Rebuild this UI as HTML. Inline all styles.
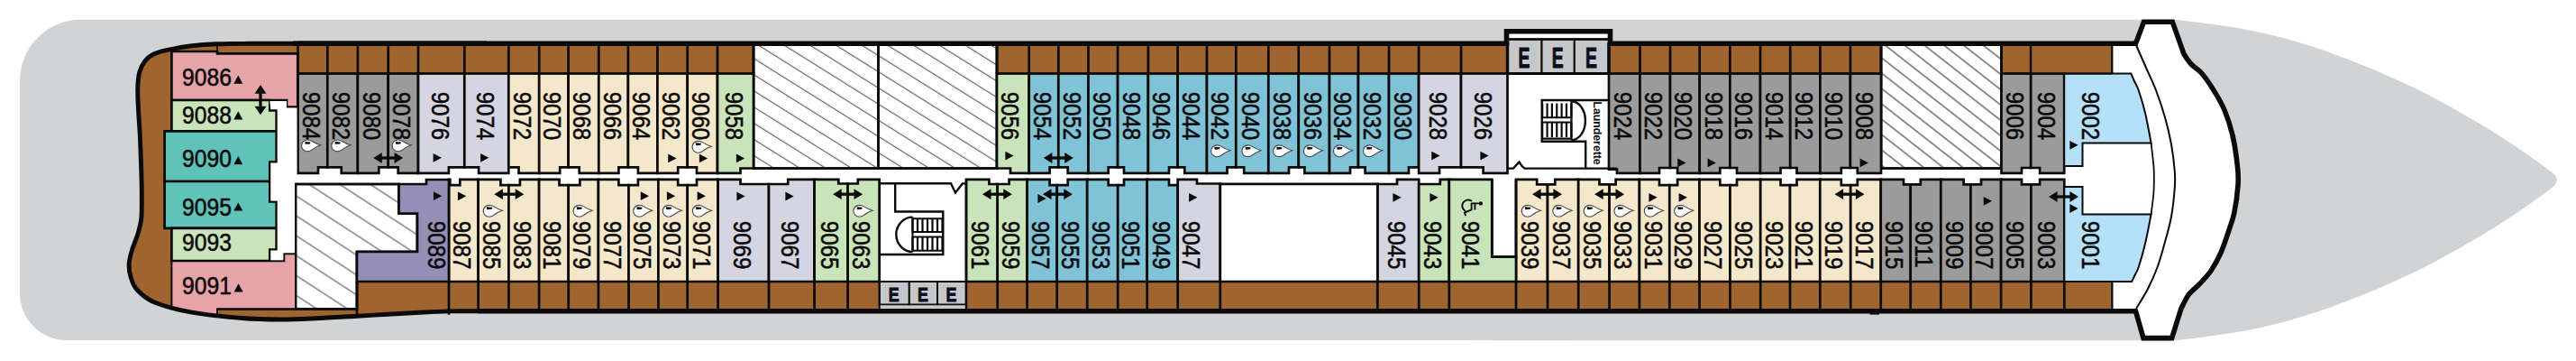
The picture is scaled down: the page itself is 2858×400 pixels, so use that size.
<!DOCTYPE html>
<html lang="en"><head><meta charset="utf-8"><title>Deck 9 plan</title>
<style>html,body{margin:0;padding:0;background:#fff}body{width:2858px;height:400px;overflow:hidden}svg{display:block}</style>
</head><body>
<svg width="2858" height="400" viewBox="0 0 2858 400">
<defs>
<pattern id="hatch" width="40" height="15.2" patternUnits="userSpaceOnUse" patternTransform="rotate(32)"><line x1="0" y1="7" x2="40" y2="7" stroke="#626365" stroke-width="1.3"/></pattern>
<pattern id="hatch3" width="40" height="13.4" patternUnits="userSpaceOnUse" patternTransform="rotate(38)"><line x1="0" y1="11.5" x2="40" y2="11.5" stroke="#626365" stroke-width="1.3"/></pattern>
<pattern id="hatch4" width="40" height="18.5" patternUnits="userSpaceOnUse" patternTransform="rotate(33)"><line x1="0" y1="3" x2="40" y2="3" stroke="#626365" stroke-width="1.3"/></pattern>
<clipPath id="hullclip"><path d="M330,48.3 L1671.5,48.3 L1671.5,34.8 L1786.5,34.8 L1786.5,48.3 L2369.5,48.3 L2378.5,24.2 L2410.3,24.2 L2423,60 C2424.33,61.83 2427.67,67.42 2431,71 C2434.33,74.58 2438.83,76.67 2443,81.5 C2447.17,86.33 2451.83,93.25 2456,100 C2460.17,106.75 2464.5,113.67 2468,122 C2471.5,130.33 2474.58,139.5 2477,150 C2479.42,160.5 2481.5,175.83 2482.5,185 C2483.5,194.17 2483.58,196.67 2483,205 C2482.42,213.33 2480.67,226.67 2479,235 C2477.33,243.33 2475.5,247.5 2473,255 C2470.5,262.5 2467.33,272.5 2464,280 C2460.67,287.5 2457,294.17 2453,300 C2449,305.83 2444.12,310.6 2440,315 C2435.88,319.4 2431.63,321.95 2428.3,326.4 C2424.97,330.85 2421.38,339.15 2420,341.7 L2409.6,374.6 L2378,374.6 L2369.5,344.7 L530,344.7 C524.67,344.73 508,344.68 498,344.9 C488,345.12 481.33,345.43 470,346 C458.67,346.57 442.33,347.6 430,348.3 C417.67,349 409.33,349.45 396,350.2 C382.67,350.95 364.33,352.17 350,352.8 C335.67,353.43 323.58,354.05 310,354 C296.42,353.95 284.67,353.8 268.5,352.5 C252.33,351.2 229.17,349.12 213,346.2 C196.83,343.28 181.67,339.2 171.5,335 C161.33,330.8 156.45,325.83 152,321 C147.55,316.17 146.27,310.83 144.8,306 C143.33,301.17 142.92,296.83 143.2,292 C143.48,287.17 144.87,282.5 146.5,277 C148.13,271.5 151.28,264.83 153,259 C154.72,253.17 156.08,249.33 156.8,242 C157.52,234.67 157.3,223.67 157.3,215 C157.3,206.33 157.13,200.83 156.8,190 C156.47,179.17 155.83,161.17 155.3,150 C154.77,138.83 154.02,131.67 153.6,123 C153.18,114.33 152.6,105.17 152.8,98 C153,90.83 153.43,85.08 154.8,80 C156.17,74.92 158.22,70.92 161,67.5 C163.78,64.08 166.67,61.65 171.5,59.5 C176.33,57.35 183.08,56.05 190,54.6 C196.92,53.15 204.67,51.77 213,50.8 C221.33,49.83 229.67,49.22 240,48.8 C250.33,48.38 260,48.38 275,48.3 C290,48.22 320.83,48.3 330,48.3 Z"/></clipPath>
</defs>
<path d="M90,21.8 L2413,21.8 C2418.17,22.43 2431.33,23.87 2444,25.6 C2456.67,27.33 2474.17,29.45 2489,32.2 C2503.83,34.95 2518.33,38.23 2533,42.1 C2547.67,45.97 2562.17,50.33 2577,55.4 C2591.83,60.47 2610.83,68.12 2622,72.5 C2633.17,76.88 2632.83,76.7 2644,81.7 C2655.17,86.7 2674.17,95.03 2689,102.5 C2703.83,109.97 2718.33,118.08 2733,126.5 C2747.67,134.92 2764.17,144.83 2777,153 C2789.83,161.17 2801.83,169.83 2810,175.5 C2818.17,181.17 2821.92,183.92 2826,187 C2830.08,190.08 2832.67,191.92 2834.5,194 C2836.33,196.08 2836.58,198.58 2837,199.5 C2836.58,200.42 2836.33,202.92 2834.5,205 C2832.67,207.08 2830.08,208.92 2826,212 C2821.92,215.08 2818.17,217.83 2810,223.5 C2801.83,229.17 2789.83,237.83 2777,246 C2764.17,254.17 2747.67,264.08 2733,272.5 C2718.33,280.92 2703.83,289.03 2689,296.5 C2674.17,303.97 2655.17,312.3 2644,317.3 C2632.83,322.3 2633.17,322.12 2622,326.5 C2610.83,330.88 2591.83,338.53 2577,343.6 C2562.17,348.67 2547.67,353.03 2533,356.9 C2518.33,360.77 2503.83,364.05 2489,366.8 C2474.17,369.55 2456.67,371.67 2444,373.4 C2431.33,375.13 2418.17,376.57 2413,377.2 L74,377 A52,52 0 0 1 22,325 L22,89.8 A68,68 0 0 1 90,21.8 Z" fill="#d1d3d4"/>
<path d="M330,48.3 L1671.5,48.3 L1671.5,34.8 L1786.5,34.8 L1786.5,48.3 L2369.5,48.3 L2378.5,24.2 L2410.3,24.2 L2423,60 C2424.33,61.83 2427.67,67.42 2431,71 C2434.33,74.58 2438.83,76.67 2443,81.5 C2447.17,86.33 2451.83,93.25 2456,100 C2460.17,106.75 2464.5,113.67 2468,122 C2471.5,130.33 2474.58,139.5 2477,150 C2479.42,160.5 2481.5,175.83 2482.5,185 C2483.5,194.17 2483.58,196.67 2483,205 C2482.42,213.33 2480.67,226.67 2479,235 C2477.33,243.33 2475.5,247.5 2473,255 C2470.5,262.5 2467.33,272.5 2464,280 C2460.67,287.5 2457,294.17 2453,300 C2449,305.83 2444.12,310.6 2440,315 C2435.88,319.4 2431.63,321.95 2428.3,326.4 C2424.97,330.85 2421.38,339.15 2420,341.7 L2409.6,374.6 L2378,374.6 L2369.5,344.7 L530,344.7 C524.67,344.73 508,344.68 498,344.9 C488,345.12 481.33,345.43 470,346 C458.67,346.57 442.33,347.6 430,348.3 C417.67,349 409.33,349.45 396,350.2 C382.67,350.95 364.33,352.17 350,352.8 C335.67,353.43 323.58,354.05 310,354 C296.42,353.95 284.67,353.8 268.5,352.5 C252.33,351.2 229.17,349.12 213,346.2 C196.83,343.28 181.67,339.2 171.5,335 C161.33,330.8 156.45,325.83 152,321 C147.55,316.17 146.27,310.83 144.8,306 C143.33,301.17 142.92,296.83 143.2,292 C143.48,287.17 144.87,282.5 146.5,277 C148.13,271.5 151.28,264.83 153,259 C154.72,253.17 156.08,249.33 156.8,242 C157.52,234.67 157.3,223.67 157.3,215 C157.3,206.33 157.13,200.83 156.8,190 C156.47,179.17 155.83,161.17 155.3,150 C154.77,138.83 154.02,131.67 153.6,123 C153.18,114.33 152.6,105.17 152.8,98 C153,90.83 153.43,85.08 154.8,80 C156.17,74.92 158.22,70.92 161,67.5 C163.78,64.08 166.67,61.65 171.5,59.5 C176.33,57.35 183.08,56.05 190,54.6 C196.92,53.15 204.67,51.77 213,50.8 C221.33,49.83 229.67,49.22 240,48.8 C250.33,48.38 260,48.38 275,48.3 C290,48.22 320.83,48.3 330,48.3 Z" fill="#ffffff"/>
<rect x="130" y="40" width="266" height="320" fill="#a0642f" clip-path="url(#hullclip)"/>
<rect x="395" y="312" width="150" height="48" fill="#a0642f" clip-path="url(#hullclip)"/>
<rect x="327" y="184" width="172" height="21" fill="#ffffff"/>
<rect x="330" y="48.3" width="506" height="33.2" fill="#a0642f"/>
<rect x="1106" y="48.3" width="566.5" height="33.2" fill="#a0642f"/>
<rect x="1785" y="48.3" width="302" height="33.2" fill="#a0642f"/>
<rect x="2220.5" y="48.3" width="122.8" height="33.2" fill="#a0642f"/>
<rect x="396" y="312" width="579.7" height="32.7" fill="#a0642f"/>
<rect x="1072" y="312" width="1271.4" height="32.7" fill="#a0642f"/>
<path d="M836,48.3 L974.5,48.3 L974.5,186.5 L836,186.5 Z" fill="#ffffff" stroke="#0a0a0a" stroke-width="2.5" stroke-linejoin="miter" />
<path d="M836,48.3 L974.5,48.3 L974.5,186.5 L836,186.5 Z" fill="url(#hatch)" stroke="#0a0a0a" stroke-width="2.5" stroke-linejoin="miter" />
<path d="M974.5,48.3 L1106,48.3 L1106,186.5 L974.5,186.5 Z" fill="#ffffff" stroke="#0a0a0a" stroke-width="2.5" stroke-linejoin="miter" />
<path d="M974.5,48.3 L1106,48.3 L1106,186.5 L974.5,186.5 Z" fill="url(#hatch)" stroke="#0a0a0a" stroke-width="2.5" stroke-linejoin="miter" />
<path d="M2087,48.3 L2220.5,48.3 L2220.5,186.5 L2087,186.5 Z" fill="#ffffff" stroke="#0a0a0a" stroke-width="2.5" stroke-linejoin="miter" />
<path d="M2087,48.3 L2220.5,48.3 L2220.5,186.5 L2087,186.5 Z" fill="url(#hatch3)" stroke="#0a0a0a" stroke-width="2.5" stroke-linejoin="miter" />
<path d="M328,204 L442.5,204 L442.5,236.5 L463,236.5 L463,279 L396,279 L396,342.3 L328,342.3 Z" fill="#ffffff" stroke="#0a0a0a" stroke-width="2.5" stroke-linejoin="miter" />
<path d="M328,204 L442.5,204 L442.5,236.5 L463,236.5 L463,279 L396,279 L396,342.3 L328,342.3 Z" fill="url(#hatch4)" stroke="#0a0a0a" stroke-width="2.5" stroke-linejoin="miter" />
<path d="M330.5,81.5 L363.3,81.5 L363.3,185.3 L353,185.3 L353,191.8 L330.5,191.8 Z" fill="#9b9b9b" stroke="#0a0a0a" stroke-width="2.7" stroke-linejoin="miter" />
<path d="M363.3,81.5 L396.9,81.5 L396.9,191.8 L378.7,191.8 L378.7,185.3 L363.3,185.3 Z" fill="#9b9b9b" stroke="#0a0a0a" stroke-width="2.7" stroke-linejoin="miter" />
<path d="M396.9,81.5 L430.7,81.5 L430.7,185.3 L420.3,185.3 L420.3,191.8 L396.9,191.8 Z" fill="#9b9b9b" stroke="#0a0a0a" stroke-width="2.7" stroke-linejoin="miter" />
<path d="M430.7,81.5 L464,81.5 L464,191.8 L441.7,191.8 L441.7,185.3 L430.7,185.3 Z" fill="#9b9b9b" stroke="#0a0a0a" stroke-width="2.7" stroke-linejoin="miter" />
<path d="M464,81.5 L515.3,81.5 L515.3,185.3 L497.9,185.3 L497.9,191.8 L464,191.8 Z" fill="#d4d5e1" stroke="#0a0a0a" stroke-width="2.7" stroke-linejoin="miter" />
<path d="M515.3,81.5 L564.3,81.5 L564.3,191.8 L531.1,191.8 L531.1,185.3 L515.3,185.3 Z" fill="#d4d5e1" stroke="#0a0a0a" stroke-width="2.7" stroke-linejoin="miter" />
<path d="M564.3,81.5 L598.2,81.5 L598.2,191.8 L575.5,191.8 L575.5,185.3 L564.3,185.3 Z" fill="#f5e7c9" stroke="#0a0a0a" stroke-width="2.7" stroke-linejoin="miter" />
<path d="M598.2,81.5 L630.6,81.5 L630.6,185.3 L621.2,185.3 L621.2,191.8 L598.2,191.8 Z" fill="#f5e7c9" stroke="#0a0a0a" stroke-width="2.7" stroke-linejoin="miter" />
<path d="M630.6,81.5 L664.3,81.5 L664.3,191.8 L642.7,191.8 L642.7,185.3 L630.6,185.3 Z" fill="#f5e7c9" stroke="#0a0a0a" stroke-width="2.7" stroke-linejoin="miter" />
<path d="M664.3,81.5 L696.9,81.5 L696.9,185.3 L686.4,185.3 L686.4,191.8 L664.3,191.8 Z" fill="#f5e7c9" stroke="#0a0a0a" stroke-width="2.7" stroke-linejoin="miter" />
<path d="M696.9,81.5 L729.4,81.5 L729.4,191.8 L707.9,191.8 L707.9,185.3 L696.9,185.3 Z" fill="#f5e7c9" stroke="#0a0a0a" stroke-width="2.7" stroke-linejoin="miter" />
<path d="M729.4,81.5 L762.7,81.5 L762.7,185.3 L752.2,185.3 L752.2,191.8 L729.4,191.8 Z" fill="#f5e7c9" stroke="#0a0a0a" stroke-width="2.7" stroke-linejoin="miter" />
<path d="M762.7,81.5 L796,81.5 L796,191.8 L773,191.8 L773,185.3 L762.7,185.3 Z" fill="#f5e7c9" stroke="#0a0a0a" stroke-width="2.7" stroke-linejoin="miter" />
<path d="M796,81.5 L836,81.5 L836,186.5 L821.5,186.5 L821.5,191.8 L796,191.8 Z" fill="#cae4ba" stroke="#0a0a0a" stroke-width="2.7" stroke-linejoin="miter" />
<path d="M1106,81.5 L1141.7,81.5 L1141.7,191.8 L1121,191.8 L1121,186.5 L1106,186.5 Z" fill="#cae4ba" stroke="#0a0a0a" stroke-width="2.7" stroke-linejoin="miter" />
<path d="M1141.7,81.5 L1174.3,81.5 L1174.3,185.3 L1164.6,185.3 L1164.6,191.8 L1141.7,191.8 Z" fill="#80c2d6" stroke="#0a0a0a" stroke-width="2.7" stroke-linejoin="miter" />
<path d="M1174.3,81.5 L1207.5,81.5 L1207.5,191.8 L1184.7,191.8 L1184.7,185.3 L1174.3,185.3 Z" fill="#80c2d6" stroke="#0a0a0a" stroke-width="2.7" stroke-linejoin="miter" />
<path d="M1207.5,81.5 L1240.1,81.5 L1240.1,185.3 L1229.7,185.3 L1229.7,191.8 L1207.5,191.8 Z" fill="#80c2d6" stroke="#0a0a0a" stroke-width="2.7" stroke-linejoin="miter" />
<path d="M1240.1,81.5 L1273.9,81.5 L1273.9,191.8 L1247,191.8 L1247,185.3 L1240.1,185.3 Z" fill="#80c2d6" stroke="#0a0a0a" stroke-width="2.7" stroke-linejoin="miter" />
<path d="M1273.9,81.5 L1306.6,81.5 L1306.6,185.3 L1297,185.3 L1297,191.8 L1273.9,191.8 Z" fill="#80c2d6" stroke="#0a0a0a" stroke-width="2.7" stroke-linejoin="miter" />
<path d="M1306.6,81.5 L1339,81.5 L1339,191.8 L1314.3,191.8 L1314.3,185.3 L1306.6,185.3 Z" fill="#80c2d6" stroke="#0a0a0a" stroke-width="2.7" stroke-linejoin="miter" />
<path d="M1339,81.5 L1371.3,81.5 L1371.3,185.3 L1361.5,185.3 L1361.5,191.8 L1339,191.8 Z" fill="#80c2d6" stroke="#0a0a0a" stroke-width="2.7" stroke-linejoin="miter" />
<path d="M1371.3,81.5 L1407.3,81.5 L1407.3,191.8 L1380.2,191.8 L1380.2,185.3 L1371.3,185.3 Z" fill="#80c2d6" stroke="#0a0a0a" stroke-width="2.7" stroke-linejoin="miter" />
<path d="M1407.3,81.5 L1440.8,81.5 L1440.8,185.3 L1430,185.3 L1430,191.8 L1407.3,191.8 Z" fill="#80c2d6" stroke="#0a0a0a" stroke-width="2.7" stroke-linejoin="miter" />
<path d="M1440.8,81.5 L1475,81.5 L1475,191.8 L1447.4,191.8 L1447.4,185.3 L1440.8,185.3 Z" fill="#80c2d6" stroke="#0a0a0a" stroke-width="2.7" stroke-linejoin="miter" />
<path d="M1475,81.5 L1507,81.5 L1507,185.3 L1498,185.3 L1498,191.8 L1475,191.8 Z" fill="#80c2d6" stroke="#0a0a0a" stroke-width="2.7" stroke-linejoin="miter" />
<path d="M1507,81.5 L1541,81.5 L1541,191.8 L1514.6,191.8 L1514.6,185.3 L1507,185.3 Z" fill="#80c2d6" stroke="#0a0a0a" stroke-width="2.7" stroke-linejoin="miter" />
<path d="M1541,81.5 L1574.1,81.5 L1574.1,185.3 L1563,185.3 L1563,191.8 L1541,191.8 Z" fill="#80c2d6" stroke="#0a0a0a" stroke-width="2.7" stroke-linejoin="miter" />
<path d="M1574.1,81.5 L1621,81.5 L1621,185.3 L1597,185.3 L1597,191.8 L1574.1,191.8 Z" fill="#d4d5e1" stroke="#0a0a0a" stroke-width="2.7" stroke-linejoin="miter" />
<path d="M1621,81.5 L1672.5,81.5 L1672.5,191.8 L1645.6,191.8 L1645.6,185.3 L1621,185.3 Z" fill="#d4d5e1" stroke="#0a0a0a" stroke-width="2.7" stroke-linejoin="miter" />
<path d="M1785,81.5 L1819.5,81.5 L1819.5,191.8 L1794,191.8 L1794,187.7 L1785,187.7 Z" fill="#9b9b9b" stroke="#0a0a0a" stroke-width="2.7" stroke-linejoin="miter" />
<path d="M1819.5,81.5 L1853,81.5 L1853,186 L1841,186 L1841,191.8 L1819.5,191.8 Z" fill="#9b9b9b" stroke="#0a0a0a" stroke-width="2.7" stroke-linejoin="miter" />
<path d="M1853,81.5 L1885.7,81.5 L1885.7,191.8 L1861.1,191.8 L1861.1,186 L1853,186 Z" fill="#9b9b9b" stroke="#0a0a0a" stroke-width="2.7" stroke-linejoin="miter" />
<path d="M1885.7,81.5 L1919.4,81.5 L1919.4,186 L1908.3,186 L1908.3,191.8 L1885.7,191.8 Z" fill="#9b9b9b" stroke="#0a0a0a" stroke-width="2.7" stroke-linejoin="miter" />
<path d="M1919.4,81.5 L1953,81.5 L1953,191.8 L1927,191.8 L1927,186 L1919.4,186 Z" fill="#9b9b9b" stroke="#0a0a0a" stroke-width="2.7" stroke-linejoin="miter" />
<path d="M1953,81.5 L1986.2,81.5 L1986.2,186 L1975.5,186 L1975.5,191.8 L1953,191.8 Z" fill="#9b9b9b" stroke="#0a0a0a" stroke-width="2.7" stroke-linejoin="miter" />
<path d="M1986.2,81.5 L2019.4,81.5 L2019.4,191.8 L1993.5,191.8 L1993.5,186 L1986.2,186 Z" fill="#9b9b9b" stroke="#0a0a0a" stroke-width="2.7" stroke-linejoin="miter" />
<path d="M2019.4,81.5 L2052.9,81.5 L2052.9,186 L2042.8,186 L2042.8,191.8 L2019.4,191.8 Z" fill="#9b9b9b" stroke="#0a0a0a" stroke-width="2.7" stroke-linejoin="miter" />
<path d="M2052.9,81.5 L2087,81.5 L2087,191.8 L2060.8,191.8 L2060.8,186 L2052.9,186 Z" fill="#9b9b9b" stroke="#0a0a0a" stroke-width="2.7" stroke-linejoin="miter" />
<path d="M2220.5,81.5 L2253.2,81.5 L2253.2,186 L2243,186 L2243,191.8 L2220.5,191.8 Z" fill="#9b9b9b" stroke="#0a0a0a" stroke-width="2.7" stroke-linejoin="miter" />
<path d="M2253.2,81.5 L2290.2,81.5 L2290.2,191.8 L2263.1,191.8 L2263.1,186 L2253.2,186 Z" fill="#9b9b9b" stroke="#0a0a0a" stroke-width="2.7" stroke-linejoin="miter" />
<path d="M498,198.8 L499.3,198.8 L499.3,205.1 L510.3,205.1 L510.3,198.8 L530.6,198.8 L530.6,312 L498,312 Z" fill="#f5e7c9" stroke="#0a0a0a" stroke-width="2.7" stroke-linejoin="miter" />
<path d="M530.6,198.8 L555.4,198.8 L555.4,205.1 L564.4,205.1 L564.4,312 L530.6,312 Z" fill="#f5e7c9" stroke="#0a0a0a" stroke-width="2.7" stroke-linejoin="miter" />
<path d="M564.4,205.1 L576.9,205.1 L576.9,198.8 L598.1,198.8 L598.1,312 L564.4,312 Z" fill="#f5e7c9" stroke="#0a0a0a" stroke-width="2.7" stroke-linejoin="miter" />
<path d="M598.1,198.8 L620.5,198.8 L620.5,205.1 L630.7,205.1 L630.7,312 L598.1,312 Z" fill="#f5e7c9" stroke="#0a0a0a" stroke-width="2.7" stroke-linejoin="miter" />
<path d="M630.7,205.1 L643.4,205.1 L643.4,198.8 L663.9,198.8 L663.9,312 L630.7,312 Z" fill="#f5e7c9" stroke="#0a0a0a" stroke-width="2.7" stroke-linejoin="miter" />
<path d="M663.9,198.8 L686.4,198.8 L686.4,205.1 L697.5,205.1 L697.5,312 L663.9,312 Z" fill="#f5e7c9" stroke="#0a0a0a" stroke-width="2.7" stroke-linejoin="miter" />
<path d="M697.5,205.1 L707.9,205.1 L707.9,198.8 L730.4,198.8 L730.4,312 L697.5,312 Z" fill="#f5e7c9" stroke="#0a0a0a" stroke-width="2.7" stroke-linejoin="miter" />
<path d="M730.4,198.8 L752.2,198.8 L752.2,205.1 L762.7,205.1 L762.7,312 L730.4,312 Z" fill="#f5e7c9" stroke="#0a0a0a" stroke-width="2.7" stroke-linejoin="miter" />
<path d="M762.7,205.1 L773,205.1 L773,198.8 L796.6,198.8 L796.6,312 L762.7,312 Z" fill="#f5e7c9" stroke="#0a0a0a" stroke-width="2.7" stroke-linejoin="miter" />
<path d="M796.6,198.8 L821.5,198.8 L821.5,204 L853,204 L853,312 L796.6,312 Z" fill="#d4d5e1" stroke="#0a0a0a" stroke-width="2.7" stroke-linejoin="miter" />
<path d="M853,204 L874.2,204 L874.2,198.8 L903.6,198.8 L903.6,312 L853,312 Z" fill="#d4d5e1" stroke="#0a0a0a" stroke-width="2.7" stroke-linejoin="miter" />
<path d="M903.6,198.8 L930.3,198.8 L930.3,203.5 L940.6,203.5 L940.6,312 L903.6,312 Z" fill="#cae4ba" stroke="#0a0a0a" stroke-width="2.7" stroke-linejoin="miter" />
<path d="M940.6,203.5 L951.8,203.5 L951.8,198.8 L975.7,198.8 L975.7,312 L940.6,312 Z" fill="#cae4ba" stroke="#0a0a0a" stroke-width="2.7" stroke-linejoin="miter" />
<path d="M1072,198.8 L1097.4,198.8 L1097.4,204 L1106.7,204 L1106.7,312 L1072,312 Z" fill="#cae4ba" stroke="#0a0a0a" stroke-width="2.7" stroke-linejoin="miter" />
<path d="M1106.7,204 L1119.6,204 L1119.6,198.8 L1139.6,198.8 L1139.6,312 L1106.7,312 Z" fill="#cae4ba" stroke="#0a0a0a" stroke-width="2.7" stroke-linejoin="miter" />
<path d="M1139.6,198.8 L1164.6,198.8 L1164.6,205.1 L1172.7,205.1 L1172.7,312 L1139.6,312 Z" fill="#80c2d6" stroke="#0a0a0a" stroke-width="2.7" stroke-linejoin="miter" />
<path d="M1172.7,205.1 L1184.7,205.1 L1184.7,198.8 L1206.2,198.8 L1206.2,312 L1172.7,312 Z" fill="#80c2d6" stroke="#0a0a0a" stroke-width="2.7" stroke-linejoin="miter" />
<path d="M1206.2,198.8 L1229.7,198.8 L1229.7,205.1 L1240.2,205.1 L1240.2,312 L1206.2,312 Z" fill="#80c2d6" stroke="#0a0a0a" stroke-width="2.7" stroke-linejoin="miter" />
<path d="M1240.2,205.1 L1247,205.1 L1247,198.8 L1272.7,198.8 L1272.7,312 L1240.2,312 Z" fill="#80c2d6" stroke="#0a0a0a" stroke-width="2.7" stroke-linejoin="miter" />
<path d="M1272.7,198.8 L1297,198.8 L1297,205.1 L1306.7,205.1 L1306.7,312 L1272.7,312 Z" fill="#80c2d6" stroke="#0a0a0a" stroke-width="2.7" stroke-linejoin="miter" />
<path d="M1306.7,198.8 L1328,198.8 L1328,203.5 L1353.8,203.5 L1353.8,312 L1306.7,312 Z" fill="#d4d5e1" stroke="#0a0a0a" stroke-width="2.7" stroke-linejoin="miter" />
<path d="M1528.3,204 L1550,204 L1550,198.8 L1574.2,198.8 L1574.2,312 L1528.3,312 Z" fill="#d4d5e1" stroke="#0a0a0a" stroke-width="2.7" stroke-linejoin="miter" />
<path d="M1574.2,204 L1597.8,204 L1597.8,198.8 L1607.8,198.8 L1607.8,312 L1574.2,312 Z" fill="#cae4ba" stroke="#0a0a0a" stroke-width="2.7" stroke-linejoin="miter" />
<path d="M1682,198.8 L1705.2,198.8 L1705.2,204.4 L1717,204.4 L1717,312 L1682,312 Z" fill="#f5e7c9" stroke="#0a0a0a" stroke-width="2.7" stroke-linejoin="miter" />
<path d="M1717,204.4 L1725.3,204.4 L1725.3,198.8 L1751.2,198.8 L1751.2,312 L1717,312 Z" fill="#f5e7c9" stroke="#0a0a0a" stroke-width="2.7" stroke-linejoin="miter" />
<path d="M1751.2,198.8 L1774.5,198.8 L1774.5,204.4 L1785.6,204.4 L1785.6,312 L1751.2,312 Z" fill="#f5e7c9" stroke="#0a0a0a" stroke-width="2.7" stroke-linejoin="miter" />
<path d="M1785.6,204.4 L1792.6,204.4 L1792.6,198.8 L1818.9,198.8 L1818.9,312 L1785.6,312 Z" fill="#f5e7c9" stroke="#0a0a0a" stroke-width="2.7" stroke-linejoin="miter" />
<path d="M1818.9,198.8 L1841,198.8 L1841,205.1 L1852.3,205.1 L1852.3,312 L1818.9,312 Z" fill="#f5e7c9" stroke="#0a0a0a" stroke-width="2.7" stroke-linejoin="miter" />
<path d="M1852.3,205.1 L1861.1,205.1 L1861.1,198.8 L1885.5,198.8 L1885.5,312 L1852.3,312 Z" fill="#f5e7c9" stroke="#0a0a0a" stroke-width="2.7" stroke-linejoin="miter" />
<path d="M1885.5,198.8 L1908.3,198.8 L1908.3,205.1 L1919.5,205.1 L1919.5,312 L1885.5,312 Z" fill="#f5e7c9" stroke="#0a0a0a" stroke-width="2.7" stroke-linejoin="miter" />
<path d="M1919.5,205.1 L1927,205.1 L1927,198.8 L1953.2,198.8 L1953.2,312 L1919.5,312 Z" fill="#f5e7c9" stroke="#0a0a0a" stroke-width="2.7" stroke-linejoin="miter" />
<path d="M1953.2,198.8 L1975.5,198.8 L1975.5,205.1 L1986,205.1 L1986,312 L1953.2,312 Z" fill="#f5e7c9" stroke="#0a0a0a" stroke-width="2.7" stroke-linejoin="miter" />
<path d="M1986,205.1 L1993.5,205.1 L1993.5,198.8 L2019.3,198.8 L2019.3,312 L1986,312 Z" fill="#f5e7c9" stroke="#0a0a0a" stroke-width="2.7" stroke-linejoin="miter" />
<path d="M2019.3,198.8 L2042.8,198.8 L2042.8,205.1 L2053.2,205.1 L2053.2,312 L2019.3,312 Z" fill="#f5e7c9" stroke="#0a0a0a" stroke-width="2.7" stroke-linejoin="miter" />
<path d="M2053.2,205.1 L2060.8,205.1 L2060.8,198.8 L2086.7,198.8 L2086.7,312 L2053.2,312 Z" fill="#f5e7c9" stroke="#0a0a0a" stroke-width="2.7" stroke-linejoin="miter" />
<path d="M2086.7,198.8 L2112,198.8 L2112,204.4 L2119.7,204.4 L2119.7,312 L2086.7,312 Z" fill="#9b9b9b" stroke="#0a0a0a" stroke-width="2.7" stroke-linejoin="miter" />
<path d="M2119.7,204.4 L2130.8,204.4 L2130.8,198.8 L2153.3,198.8 L2153.3,312 L2119.7,312 Z" fill="#9b9b9b" stroke="#0a0a0a" stroke-width="2.7" stroke-linejoin="miter" />
<path d="M2153.3,198.8 L2178.6,198.8 L2178.6,204.4 L2186.4,204.4 L2186.4,312 L2153.3,312 Z" fill="#9b9b9b" stroke="#0a0a0a" stroke-width="2.7" stroke-linejoin="miter" />
<path d="M2186.4,204.4 L2198,204.4 L2198,198.8 L2220.1,198.8 L2220.1,312 L2186.4,312 Z" fill="#9b9b9b" stroke="#0a0a0a" stroke-width="2.7" stroke-linejoin="miter" />
<path d="M2220.1,198.8 L2243,198.8 L2243,204.4 L2253.4,204.4 L2253.4,312 L2220.1,312 Z" fill="#9b9b9b" stroke="#0a0a0a" stroke-width="2.7" stroke-linejoin="miter" />
<path d="M2253.4,204.4 L2263.1,204.4 L2263.1,198.8 L2290.3,198.8 L2290.3,312 L2253.4,312 Z" fill="#9b9b9b" stroke="#0a0a0a" stroke-width="2.7" stroke-linejoin="miter" />
<path d="M442.5,204 L473,204 L473,199 L498,199 L498,312 L396,312 L396,279 L463,279 L463,236.5 L442.5,236.5 Z" fill="#958fb8" stroke="#0a0a0a" stroke-width="2.7" stroke-linejoin="miter" />
<path d="M1353.8,203.8 L1528.3,203.8 L1528.3,312 L1353.8,312 Z" fill="#ffffff" stroke="#0a0a0a" stroke-width="2.7" stroke-linejoin="miter" />
<path d="M1607.8,198.8 L1655.3,198.8 L1655.3,284.5 L1682,284.5 L1682,312 L1607.8,312 Z" fill="#cae4ba" stroke="#0a0a0a" stroke-width="2.7" stroke-linejoin="miter" />
<path d="M1655.3,198.8 L1655.3,284.5 L1682,284.5 L1682,198.8" fill="none" stroke="#0a0a0a" stroke-width="2.7" />
<path d="M2290.2,81.5 L2364.3,81.5 C2364.92,82.92 2366.6,86.92 2368,90 C2369.4,93.08 2370.7,94.17 2372.7,100 C2374.7,105.83 2377.68,115.27 2380,125 C2382.32,134.73 2385.5,152.83 2386.6,158.4 L2310.5,158.4 L2310.5,184 L2290.2,184 Z" fill="#b5e1f8" stroke="#0a0a0a" stroke-width="2"/>
<path d="M2290.3,207 L2310.5,207 L2310.5,237.5 L2386.6,237.5 C2385.5,242.92 2382.32,260.25 2380,270 C2377.68,279.75 2374.62,290.17 2372.7,296 C2370.78,301.83 2369.75,302.33 2368.5,305 C2367.25,307.67 2365.75,310.83 2365.2,312 L2290.3,312 Z" fill="#b5e1f8" stroke="#0a0a0a" stroke-width="2"/>
<path d="M2386.6,158.4 C2387.08,162.83 2388.97,178.07 2389.5,185 C2390.03,191.93 2389.83,195 2389.8,200 C2389.77,205 2389.83,208.75 2389.3,215 C2388.77,221.25 2387.05,233.75 2386.6,237.5" fill="none" stroke="#0a0a0a" stroke-width="1.8"/>
<path d="M2370,50 C2371.83,54.17 2377.33,66.67 2381,75 C2384.67,83.33 2388.5,90.83 2392,100 C2395.5,109.17 2399.17,120 2402,130 C2404.83,140 2407.2,150 2409,160 C2410.8,170 2412.17,182 2412.8,190 C2413.43,198 2413.43,199.67 2412.8,208 C2412.17,216.33 2410.8,230 2409,240 C2407.2,250 2404.57,258.67 2402,268 C2399.43,277.33 2396.77,287.33 2393.6,296 C2390.43,304.67 2386.93,312.33 2383,320 C2379.07,327.67 2372.17,338.33 2370,342" fill="none" stroke="#0a0a0a" stroke-width="2"/>
<path d="M2343.3,48.3 L2343.3,81.5" fill="none" stroke="#0a0a0a" stroke-width="2.2" />
<path d="M2343.4,312 L2343.4,344.7" fill="none" stroke="#0a0a0a" stroke-width="2.2" />
<path d="M190.4,57 L241,57 L241,59.3 L330.3,59.3 L330.3,118.5 L318,118.5 L318,111 L190.4,111 Z" fill="#e6a3a8" stroke="#0a0a0a" stroke-width="2.7" stroke-linejoin="miter" />
<path d="M241,49 L241,59.3" fill="none" stroke="#0a0a0a" stroke-width="1.6" />
<path d="M190.4,111 L299.3,111 L299.3,122.3 L306.7,122.3 L306.7,145.3 L190.4,145.3 Z" fill="#cae4ba" stroke="#0a0a0a" stroke-width="2.7" stroke-linejoin="miter" />
<path d="M182.6,145.3 L306.7,145.3 L306.7,179.5 L299.3,179.5 L299.3,201 L182.6,201 Z" fill="#5fc3ba" stroke="#0a0a0a" stroke-width="2.7" stroke-linejoin="miter" />
<path d="M182.6,201 L299.3,201 L299.3,223.5 L306.7,223.5 L306.7,252.8 L182.6,252.8 Z" fill="#5fc3ba" stroke="#0a0a0a" stroke-width="2.7" stroke-linejoin="miter" />
<path d="M190.4,252.8 L306.7,252.8 L306.7,276.5 L299.3,276.5 L299.3,289.2 L190.4,289.2 Z" fill="#cae4ba" stroke="#0a0a0a" stroke-width="2.7" stroke-linejoin="miter" />
<path d="M190.4,289.2 L315.3,289.2 L315.3,281.3 L328,281.3 L328,342.5 L241,342.5 L241,352 L190.4,352 Z" fill="#e6a3a8" clip-path="url(#hullclip)"/>
<path d="M190.4,341 L190.4,289.2 L315.3,289.2 L315.3,281.3 L328,281.3 L328,342.5 L241,342.5 L241,351" fill="none" stroke="#0a0a0a" stroke-width="2" />
<path d="M241,342.5 L396,342.5" fill="none" stroke="#0a0a0a" stroke-width="2" />
<path d="M190.4,57 L190.4,52" fill="none" stroke="#0a0a0a" stroke-width="2" />
<path d="M299.3,112 L318,112 L318,119.5 L329.5,119.5 L329.5,192.8 L327,192.8 L327,280.3 L314.3,280.3 L314.3,288.2 L300.3,288.2 L300.3,277.5 L307.7,277.5 L307.7,222.5 L300.3,222.5 L300.3,180.5 L307.7,180.5 L307.7,121.3 L300.3,121.3 Z" fill="#ffffff"/>
<path d="M1672.5,186.6 L1679,186.6 L1685.5,179.5 L1688.5,184 L1691.5,186.6 L1794,186.6" fill="none" stroke="#0a0a0a" stroke-width="2.4" />
<path d="M1784,111 L1710.7,111 L1710.7,156.8 L1759.2,156.8 L1759.2,186.6" fill="none" stroke="#0a0a0a" stroke-width="2.4" />
<path d="M1743.5,112.2 A15.4,21.5 0 0 1 1743.5,155.2" fill="none" stroke="#0a0a0a" stroke-width="2.4"/>
<path d="M1711.2,114.5 L1711.2,130.3" fill="none" stroke="#0a0a0a" stroke-width="2.2" />
<path d="M1711.2,135.5 L1711.2,152" fill="none" stroke="#0a0a0a" stroke-width="2.2" />
<path d="M1716.55,114.5 L1716.55,130.3" fill="none" stroke="#0a0a0a" stroke-width="2.2" />
<path d="M1716.55,135.5 L1716.55,152" fill="none" stroke="#0a0a0a" stroke-width="2.2" />
<path d="M1721.9,114.5 L1721.9,130.3" fill="none" stroke="#0a0a0a" stroke-width="2.2" />
<path d="M1721.9,135.5 L1721.9,152" fill="none" stroke="#0a0a0a" stroke-width="2.2" />
<path d="M1727.25,114.5 L1727.25,130.3" fill="none" stroke="#0a0a0a" stroke-width="2.2" />
<path d="M1727.25,135.5 L1727.25,152" fill="none" stroke="#0a0a0a" stroke-width="2.2" />
<path d="M1732.6,114.5 L1732.6,130.3" fill="none" stroke="#0a0a0a" stroke-width="2.2" />
<path d="M1732.6,135.5 L1732.6,152" fill="none" stroke="#0a0a0a" stroke-width="2.2" />
<path d="M1737.95,114.5 L1737.95,130.3" fill="none" stroke="#0a0a0a" stroke-width="2.2" />
<path d="M1737.95,135.5 L1737.95,152" fill="none" stroke="#0a0a0a" stroke-width="2.2" />
<path d="M1743.3,114.5 L1743.3,130.3" fill="none" stroke="#0a0a0a" stroke-width="2.2" />
<path d="M1743.3,135.5 L1743.3,152" fill="none" stroke="#0a0a0a" stroke-width="2.2" />
<path d="M1710.7,130.3 L1744,130.3" fill="none" stroke="#0a0a0a" stroke-width="2" />
<path d="M1710.7,135.5 L1744,135.5" fill="none" stroke="#0a0a0a" stroke-width="2" />
<path d="M1710.7,153.6 L1744,153.6" fill="none" stroke="#0a0a0a" stroke-width="2.2" />
<path d="M1743.5,112 L1743.5,155" fill="none" stroke="#0a0a0a" stroke-width="2.2" />
<path d="M1672.5,43.5 L1710.5,43.5 L1710.5,81.5 L1672.5,81.5 Z" fill="#c6c7c9" stroke="#0a0a0a" stroke-width="2" stroke-linejoin="miter" />
<path d="M1710.5,43.5 L1746.8,43.5 L1746.8,81.5 L1710.5,81.5 Z" fill="#c6c7c9" stroke="#0a0a0a" stroke-width="2" stroke-linejoin="miter" />
<path d="M1746.8,43.5 L1785,43.5 L1785,81.5 L1746.8,81.5 Z" fill="#c6c7c9" stroke="#0a0a0a" stroke-width="2" stroke-linejoin="miter" />
<path d="M1672.5,43.5 L1785,43.5" fill="none" stroke="#0a0a0a" stroke-width="2.4" />
<path d="M1672.5,47 L1672.5,82.8" fill="none" stroke="#0a0a0a" stroke-width="3.4" />
<path d="M1785,47 L1785,82.8" fill="none" stroke="#0a0a0a" stroke-width="3.4" />
<path d="M1671,81.6 L1786.5,81.6" fill="none" stroke="#0a0a0a" stroke-width="3" />
<path d="M975.7,203.2 L1055,203.2 L1060,213.5 L1067.8,203.4 L1072,203.4" fill="none" stroke="#0a0a0a" stroke-width="2.4" />
<path d="M993.2,203 L993.2,234.5 L1046.3,234.5 L1046.3,282 L975.7,282" fill="none" stroke="#0a0a0a" stroke-width="2.4" />
<path d="M1012.5,240.6 A18.2,19.2 0 0 0 1012.5,279" fill="none" stroke="#0a0a0a" stroke-width="2.4"/>
<path d="M1012.5,242.4 L1012.5,257" fill="none" stroke="#0a0a0a" stroke-width="2.2" />
<path d="M1012.5,262.5 L1012.5,277.5" fill="none" stroke="#0a0a0a" stroke-width="2.2" />
<path d="M1018,242.4 L1018,257" fill="none" stroke="#0a0a0a" stroke-width="2.2" />
<path d="M1018,262.5 L1018,277.5" fill="none" stroke="#0a0a0a" stroke-width="2.2" />
<path d="M1023.5,242.4 L1023.5,257" fill="none" stroke="#0a0a0a" stroke-width="2.2" />
<path d="M1023.5,262.5 L1023.5,277.5" fill="none" stroke="#0a0a0a" stroke-width="2.2" />
<path d="M1029,242.4 L1029,257" fill="none" stroke="#0a0a0a" stroke-width="2.2" />
<path d="M1029,262.5 L1029,277.5" fill="none" stroke="#0a0a0a" stroke-width="2.2" />
<path d="M1034.5,242.4 L1034.5,257" fill="none" stroke="#0a0a0a" stroke-width="2.2" />
<path d="M1034.5,262.5 L1034.5,277.5" fill="none" stroke="#0a0a0a" stroke-width="2.2" />
<path d="M1040,242.4 L1040,257" fill="none" stroke="#0a0a0a" stroke-width="2.2" />
<path d="M1040,262.5 L1040,277.5" fill="none" stroke="#0a0a0a" stroke-width="2.2" />
<path d="M1045.5,242.4 L1045.5,257" fill="none" stroke="#0a0a0a" stroke-width="2.2" />
<path d="M1045.5,262.5 L1045.5,277.5" fill="none" stroke="#0a0a0a" stroke-width="2.2" />
<path d="M1012.5,242.2 L1046.3,242.2" fill="none" stroke="#0a0a0a" stroke-width="2" />
<path d="M1012.5,257 L1046.3,257" fill="none" stroke="#0a0a0a" stroke-width="2" />
<path d="M1012.5,262.5 L1046.3,262.5" fill="none" stroke="#0a0a0a" stroke-width="2" />
<path d="M1012.5,277.8 L1046.3,277.8" fill="none" stroke="#0a0a0a" stroke-width="2" />
<path d="M1012.5,240.6 L1012.5,279" fill="none" stroke="#0a0a0a" stroke-width="2.2" />
<path d="M975.7,312 L1008.8,312 L1008.8,337.6 L975.7,337.6 Z" fill="#c6c7c9" stroke="#0a0a0a" stroke-width="2" stroke-linejoin="miter" />
<path d="M1008.8,312 L1040,312 L1040,337.6 L1008.8,337.6 Z" fill="#c6c7c9" stroke="#0a0a0a" stroke-width="2" stroke-linejoin="miter" />
<path d="M1040,312 L1071.8,312 L1071.8,337.6 L1040,337.6 Z" fill="#c6c7c9" stroke="#0a0a0a" stroke-width="2" stroke-linejoin="miter" />
<rect x="975.7" y="338.6" width="96.1" height="3.2" fill="#c6c7c9"/>
<path d="M975.7,198.8 L975.7,342" fill="none" stroke="#0a0a0a" stroke-width="2" />
<path d="M1072,198.8 L1072,342" fill="none" stroke="#0a0a0a" stroke-width="2.4" />
<path d="M330.5,48.3 L330.5,81.5" fill="none" stroke="#0a0a0a" stroke-width="2.7" />
<path d="M363.3,48.3 L363.3,81.5" fill="none" stroke="#0a0a0a" stroke-width="2.7" />
<path d="M396.9,48.3 L396.9,81.5" fill="none" stroke="#0a0a0a" stroke-width="2.7" />
<path d="M430.7,48.3 L430.7,81.5" fill="none" stroke="#0a0a0a" stroke-width="2.7" />
<path d="M464,48.3 L464,81.5" fill="none" stroke="#0a0a0a" stroke-width="2.7" />
<path d="M515.3,48.3 L515.3,81.5" fill="none" stroke="#0a0a0a" stroke-width="2.7" />
<path d="M564.3,48.3 L564.3,81.5" fill="none" stroke="#0a0a0a" stroke-width="2.7" />
<path d="M598.2,48.3 L598.2,81.5" fill="none" stroke="#0a0a0a" stroke-width="2.7" />
<path d="M630.6,48.3 L630.6,81.5" fill="none" stroke="#0a0a0a" stroke-width="2.7" />
<path d="M664.3,48.3 L664.3,81.5" fill="none" stroke="#0a0a0a" stroke-width="2.7" />
<path d="M696.9,48.3 L696.9,81.5" fill="none" stroke="#0a0a0a" stroke-width="2.7" />
<path d="M729.4,48.3 L729.4,81.5" fill="none" stroke="#0a0a0a" stroke-width="2.7" />
<path d="M762.7,48.3 L762.7,81.5" fill="none" stroke="#0a0a0a" stroke-width="2.7" />
<path d="M796,48.3 L796,81.5" fill="none" stroke="#0a0a0a" stroke-width="2.7" />
<path d="M836,48.3 L836,81.5" fill="none" stroke="#0a0a0a" stroke-width="2.7" />
<path d="M1106,48.3 L1106,81.5" fill="none" stroke="#0a0a0a" stroke-width="2.7" />
<path d="M1141.7,48.3 L1141.7,81.5" fill="none" stroke="#0a0a0a" stroke-width="2.7" />
<path d="M1174.3,48.3 L1174.3,81.5" fill="none" stroke="#0a0a0a" stroke-width="2.7" />
<path d="M1207.5,48.3 L1207.5,81.5" fill="none" stroke="#0a0a0a" stroke-width="2.7" />
<path d="M1240.1,48.3 L1240.1,81.5" fill="none" stroke="#0a0a0a" stroke-width="2.7" />
<path d="M1273.9,48.3 L1273.9,81.5" fill="none" stroke="#0a0a0a" stroke-width="2.7" />
<path d="M1306.6,48.3 L1306.6,81.5" fill="none" stroke="#0a0a0a" stroke-width="2.7" />
<path d="M1339,48.3 L1339,81.5" fill="none" stroke="#0a0a0a" stroke-width="2.7" />
<path d="M1371.3,48.3 L1371.3,81.5" fill="none" stroke="#0a0a0a" stroke-width="2.7" />
<path d="M1407.3,48.3 L1407.3,81.5" fill="none" stroke="#0a0a0a" stroke-width="2.7" />
<path d="M1440.8,48.3 L1440.8,81.5" fill="none" stroke="#0a0a0a" stroke-width="2.7" />
<path d="M1475,48.3 L1475,81.5" fill="none" stroke="#0a0a0a" stroke-width="2.7" />
<path d="M1507,48.3 L1507,81.5" fill="none" stroke="#0a0a0a" stroke-width="2.7" />
<path d="M1541,48.3 L1541,81.5" fill="none" stroke="#0a0a0a" stroke-width="2.7" />
<path d="M1574.1,48.3 L1574.1,81.5" fill="none" stroke="#0a0a0a" stroke-width="2.7" />
<path d="M1621,48.3 L1621,81.5" fill="none" stroke="#0a0a0a" stroke-width="2.7" />
<path d="M1672.5,48.3 L1672.5,81.5" fill="none" stroke="#0a0a0a" stroke-width="2.7" />
<path d="M1785,48.3 L1785,81.5" fill="none" stroke="#0a0a0a" stroke-width="2.7" />
<path d="M1819.5,48.3 L1819.5,81.5" fill="none" stroke="#0a0a0a" stroke-width="2.7" />
<path d="M1853,48.3 L1853,81.5" fill="none" stroke="#0a0a0a" stroke-width="2.7" />
<path d="M1885.7,48.3 L1885.7,81.5" fill="none" stroke="#0a0a0a" stroke-width="2.7" />
<path d="M1919.4,48.3 L1919.4,81.5" fill="none" stroke="#0a0a0a" stroke-width="2.7" />
<path d="M1953,48.3 L1953,81.5" fill="none" stroke="#0a0a0a" stroke-width="2.7" />
<path d="M1986.2,48.3 L1986.2,81.5" fill="none" stroke="#0a0a0a" stroke-width="2.7" />
<path d="M2019.4,48.3 L2019.4,81.5" fill="none" stroke="#0a0a0a" stroke-width="2.7" />
<path d="M2052.9,48.3 L2052.9,81.5" fill="none" stroke="#0a0a0a" stroke-width="2.7" />
<path d="M2087,48.3 L2087,81.5" fill="none" stroke="#0a0a0a" stroke-width="2.7" />
<path d="M2220.5,48.3 L2220.5,81.5" fill="none" stroke="#0a0a0a" stroke-width="2.7" />
<path d="M2253.2,48.3 L2253.2,81.5" fill="none" stroke="#0a0a0a" stroke-width="2.7" />
<path d="M2290.2,48.3 L2290.2,81.5" fill="none" stroke="#0a0a0a" stroke-width="2.7" />
<path d="M396,312 L396,348.7" fill="none" stroke="#0a0a0a" stroke-width="2.7" />
<path d="M498,312 L498,348.7" fill="none" stroke="#0a0a0a" stroke-width="2.7" />
<path d="M530.6,312 L530.6,344.7" fill="none" stroke="#0a0a0a" stroke-width="2.7" />
<path d="M564.4,312 L564.4,344.7" fill="none" stroke="#0a0a0a" stroke-width="2.7" />
<path d="M598.1,312 L598.1,344.7" fill="none" stroke="#0a0a0a" stroke-width="2.7" />
<path d="M630.7,312 L630.7,344.7" fill="none" stroke="#0a0a0a" stroke-width="2.7" />
<path d="M663.9,312 L663.9,344.7" fill="none" stroke="#0a0a0a" stroke-width="2.7" />
<path d="M697.5,312 L697.5,344.7" fill="none" stroke="#0a0a0a" stroke-width="2.7" />
<path d="M730.4,312 L730.4,344.7" fill="none" stroke="#0a0a0a" stroke-width="2.7" />
<path d="M762.7,312 L762.7,344.7" fill="none" stroke="#0a0a0a" stroke-width="2.7" />
<path d="M796.6,312 L796.6,344.7" fill="none" stroke="#0a0a0a" stroke-width="2.7" />
<path d="M853,312 L853,344.7" fill="none" stroke="#0a0a0a" stroke-width="2.7" />
<path d="M903.6,312 L903.6,344.7" fill="none" stroke="#0a0a0a" stroke-width="2.7" />
<path d="M940.6,312 L940.6,344.7" fill="none" stroke="#0a0a0a" stroke-width="2.7" />
<path d="M1106.7,312 L1106.7,344.7" fill="none" stroke="#0a0a0a" stroke-width="2.7" />
<path d="M1139.6,312 L1139.6,344.7" fill="none" stroke="#0a0a0a" stroke-width="2.7" />
<path d="M1172.7,312 L1172.7,344.7" fill="none" stroke="#0a0a0a" stroke-width="2.7" />
<path d="M1206.2,312 L1206.2,344.7" fill="none" stroke="#0a0a0a" stroke-width="2.7" />
<path d="M1240.2,312 L1240.2,344.7" fill="none" stroke="#0a0a0a" stroke-width="2.7" />
<path d="M1272.7,312 L1272.7,344.7" fill="none" stroke="#0a0a0a" stroke-width="2.7" />
<path d="M1306.7,312 L1306.7,344.7" fill="none" stroke="#0a0a0a" stroke-width="2.7" />
<path d="M1353.8,312 L1353.8,344.7" fill="none" stroke="#0a0a0a" stroke-width="2.7" />
<path d="M1528.3,312 L1528.3,344.7" fill="none" stroke="#0a0a0a" stroke-width="2.7" />
<path d="M1574.2,312 L1574.2,344.7" fill="none" stroke="#0a0a0a" stroke-width="2.7" />
<path d="M1607.8,312 L1607.8,344.7" fill="none" stroke="#0a0a0a" stroke-width="2.7" />
<path d="M1682,312 L1682,344.7" fill="none" stroke="#0a0a0a" stroke-width="2.7" />
<path d="M1717,312 L1717,344.7" fill="none" stroke="#0a0a0a" stroke-width="2.7" />
<path d="M1751.2,312 L1751.2,344.7" fill="none" stroke="#0a0a0a" stroke-width="2.7" />
<path d="M1785.6,312 L1785.6,344.7" fill="none" stroke="#0a0a0a" stroke-width="2.7" />
<path d="M1818.9,312 L1818.9,344.7" fill="none" stroke="#0a0a0a" stroke-width="2.7" />
<path d="M1852.3,312 L1852.3,344.7" fill="none" stroke="#0a0a0a" stroke-width="2.7" />
<path d="M1885.5,312 L1885.5,344.7" fill="none" stroke="#0a0a0a" stroke-width="2.7" />
<path d="M1919.5,312 L1919.5,344.7" fill="none" stroke="#0a0a0a" stroke-width="2.7" />
<path d="M1953.2,312 L1953.2,344.7" fill="none" stroke="#0a0a0a" stroke-width="2.7" />
<path d="M1986,312 L1986,344.7" fill="none" stroke="#0a0a0a" stroke-width="2.7" />
<path d="M2019.3,312 L2019.3,344.7" fill="none" stroke="#0a0a0a" stroke-width="2.7" />
<path d="M2053.2,312 L2053.2,344.7" fill="none" stroke="#0a0a0a" stroke-width="2.7" />
<path d="M2086.7,312 L2086.7,344.7" fill="none" stroke="#0a0a0a" stroke-width="2.7" />
<path d="M2119.7,312 L2119.7,344.7" fill="none" stroke="#0a0a0a" stroke-width="2.7" />
<path d="M2153.3,312 L2153.3,344.7" fill="none" stroke="#0a0a0a" stroke-width="2.7" />
<path d="M2186.4,312 L2186.4,344.7" fill="none" stroke="#0a0a0a" stroke-width="2.7" />
<path d="M2220.1,312 L2220.1,344.7" fill="none" stroke="#0a0a0a" stroke-width="2.7" />
<path d="M2253.4,312 L2253.4,344.7" fill="none" stroke="#0a0a0a" stroke-width="2.7" />
<path d="M2290.3,312 L2290.3,344.7" fill="none" stroke="#0a0a0a" stroke-width="2.7" />
<rect x="2254.5" y="48.3" width="87.5" height="32" fill="#a0642f"/>
<path d="M330,81.5 L836,81.5" fill="none" stroke="#0a0a0a" stroke-width="2" />
<path d="M1106,81.5 L1672.5,81.5" fill="none" stroke="#0a0a0a" stroke-width="2" />
<path d="M1785,81.5 L2087,81.5" fill="none" stroke="#0a0a0a" stroke-width="2" />
<path d="M2220.5,81.5 L2343.3,81.5" fill="none" stroke="#0a0a0a" stroke-width="2" />
<path d="M396,312 L975.7,312" fill="none" stroke="#0a0a0a" stroke-width="2" />
<path d="M1072,312 L2343.4,312" fill="none" stroke="#0a0a0a" stroke-width="2" />
<path d="M330,48.3 L1671.5,48.3 L1671.5,34.8 L1786.5,34.8 L1786.5,48.3 L2369.5,48.3 L2378.5,24.2 L2410.3,24.2 L2423,60 C2424.33,61.83 2427.67,67.42 2431,71 C2434.33,74.58 2438.83,76.67 2443,81.5 C2447.17,86.33 2451.83,93.25 2456,100 C2460.17,106.75 2464.5,113.67 2468,122 C2471.5,130.33 2474.58,139.5 2477,150 C2479.42,160.5 2481.5,175.83 2482.5,185 C2483.5,194.17 2483.58,196.67 2483,205 C2482.42,213.33 2480.67,226.67 2479,235 C2477.33,243.33 2475.5,247.5 2473,255 C2470.5,262.5 2467.33,272.5 2464,280 C2460.67,287.5 2457,294.17 2453,300 C2449,305.83 2444.12,310.6 2440,315 C2435.88,319.4 2431.63,321.95 2428.3,326.4 C2424.97,330.85 2421.38,339.15 2420,341.7 L2409.6,374.6 L2378,374.6 L2369.5,344.7 L530,344.7" fill="none" stroke="#0a0a0a" stroke-width="5.6" stroke-linejoin="miter"/>
<path d="M530,344.7 C524.67,344.73 508,344.68 498,344.9 C488,345.12 481.33,345.43 470,346 C458.67,346.57 442.33,347.6 430,348.3 C417.67,349 409.33,349.45 396,350.2 C382.67,350.95 364.33,352.17 350,352.8 C335.67,353.43 323.58,354.05 310,354 C296.42,353.95 284.67,353.8 268.5,352.5 C252.33,351.2 229.17,349.12 213,346.2 C196.83,343.28 181.67,339.2 171.5,335 C161.33,330.8 156.45,325.83 152,321 C147.55,316.17 146.27,310.83 144.8,306 C143.33,301.17 142.92,296.83 143.2,292 C143.48,287.17 144.87,282.5 146.5,277 C148.13,271.5 151.28,264.83 153,259 C154.72,253.17 156.08,249.33 156.8,242 C157.52,234.67 157.3,223.67 157.3,215 C157.3,206.33 157.13,200.83 156.8,190 C156.47,179.17 155.83,161.17 155.3,150 C154.77,138.83 154.02,131.67 153.6,123 C153.18,114.33 152.6,105.17 152.8,98 C153,90.83 153.43,85.08 154.8,80 C156.17,74.92 158.22,70.92 161,67.5 C163.78,64.08 166.67,61.65 171.5,59.5 C176.33,57.35 183.08,56.05 190,54.6 C196.92,53.15 204.67,51.77 213,50.8 C221.33,49.83 229.67,49.22 240,48.8 C250.33,48.38 260,48.38 275,48.3 C290,48.22 320.83,48.3 330,48.3" fill="none" stroke="#0a0a0a" stroke-width="4.9" stroke-linejoin="round"/>
<path d="M325,48.3 L540,48.3" fill="none" stroke="#0a0a0a" stroke-width="5.6"/>
<rect x="2074.5" y="345" width="10.5" height="3.6" fill="#0a0a0a"/>
<text transform="translate(335.88,101.7) rotate(90) scale(0.86,1)" font-family='"Liberation Sans", sans-serif' font-size="28" fill="#0a0a0a" stroke="#0a0a0a" stroke-width="0.55">9084</text>
<text transform="translate(369.08,101.7) rotate(90) scale(0.86,1)" font-family='"Liberation Sans", sans-serif' font-size="28" fill="#0a0a0a" stroke="#0a0a0a" stroke-width="0.55">9082</text>
<text transform="translate(402.78,101.7) rotate(90) scale(0.86,1)" font-family='"Liberation Sans", sans-serif' font-size="28" fill="#0a0a0a" stroke="#0a0a0a" stroke-width="0.55">9080</text>
<text transform="translate(436.33,101.7) rotate(90) scale(0.86,1)" font-family='"Liberation Sans", sans-serif' font-size="28" fill="#0a0a0a" stroke="#0a0a0a" stroke-width="0.55">9078</text>
<text transform="translate(478.63,101.7) rotate(90) scale(0.86,1)" font-family='"Liberation Sans", sans-serif' font-size="28" fill="#0a0a0a" stroke="#0a0a0a" stroke-width="0.55">9076</text>
<text transform="translate(528.78,101.7) rotate(90) scale(0.86,1)" font-family='"Liberation Sans", sans-serif' font-size="28" fill="#0a0a0a" stroke="#0a0a0a" stroke-width="0.55">9074</text>
<text transform="translate(570.23,101.7) rotate(90) scale(0.86,1)" font-family='"Liberation Sans", sans-serif' font-size="28" fill="#0a0a0a" stroke="#0a0a0a" stroke-width="0.55">9072</text>
<text transform="translate(603.38,101.7) rotate(90) scale(0.86,1)" font-family='"Liberation Sans", sans-serif' font-size="28" fill="#0a0a0a" stroke="#0a0a0a" stroke-width="0.55">9070</text>
<text transform="translate(636.43,101.7) rotate(90) scale(0.86,1)" font-family='"Liberation Sans", sans-serif' font-size="28" fill="#0a0a0a" stroke="#0a0a0a" stroke-width="0.55">9068</text>
<text transform="translate(669.58,101.7) rotate(90) scale(0.86,1)" font-family='"Liberation Sans", sans-serif' font-size="28" fill="#0a0a0a" stroke="#0a0a0a" stroke-width="0.55">9066</text>
<text transform="translate(702.13,101.7) rotate(90) scale(0.86,1)" font-family='"Liberation Sans", sans-serif' font-size="28" fill="#0a0a0a" stroke="#0a0a0a" stroke-width="0.55">9064</text>
<text transform="translate(735.03,101.7) rotate(90) scale(0.86,1)" font-family='"Liberation Sans", sans-serif' font-size="28" fill="#0a0a0a" stroke="#0a0a0a" stroke-width="0.55">9062</text>
<text transform="translate(768.33,101.7) rotate(90) scale(0.86,1)" font-family='"Liberation Sans", sans-serif' font-size="28" fill="#0a0a0a" stroke="#0a0a0a" stroke-width="0.55">9060</text>
<text transform="translate(804.98,101.7) rotate(90) scale(0.86,1)" font-family='"Liberation Sans", sans-serif' font-size="28" fill="#0a0a0a" stroke="#0a0a0a" stroke-width="0.55">9058</text>
<text transform="translate(1111.28,101.7) rotate(90) scale(0.86,1)" font-family='"Liberation Sans", sans-serif' font-size="28" fill="#0a0a0a" stroke="#0a0a0a" stroke-width="0.55">9056</text>
<text transform="translate(1146.98,101.7) rotate(90) scale(0.86,1)" font-family='"Liberation Sans", sans-serif' font-size="28" fill="#0a0a0a" stroke="#0a0a0a" stroke-width="0.55">9054</text>
<text transform="translate(1179.88,101.7) rotate(90) scale(0.86,1)" font-family='"Liberation Sans", sans-serif' font-size="28" fill="#0a0a0a" stroke="#0a0a0a" stroke-width="0.55">9052</text>
<text transform="translate(1212.78,101.7) rotate(90) scale(0.86,1)" font-family='"Liberation Sans", sans-serif' font-size="28" fill="#0a0a0a" stroke="#0a0a0a" stroke-width="0.55">9050</text>
<text transform="translate(1245.98,101.7) rotate(90) scale(0.86,1)" font-family='"Liberation Sans", sans-serif' font-size="28" fill="#0a0a0a" stroke="#0a0a0a" stroke-width="0.55">9048</text>
<text transform="translate(1279.23,101.7) rotate(90) scale(0.86,1)" font-family='"Liberation Sans", sans-serif' font-size="28" fill="#0a0a0a" stroke="#0a0a0a" stroke-width="0.55">9046</text>
<text transform="translate(1311.78,101.7) rotate(90) scale(0.86,1)" font-family='"Liberation Sans", sans-serif' font-size="28" fill="#0a0a0a" stroke="#0a0a0a" stroke-width="0.55">9044</text>
<text transform="translate(1344.13,101.7) rotate(90) scale(0.86,1)" font-family='"Liberation Sans", sans-serif' font-size="28" fill="#0a0a0a" stroke="#0a0a0a" stroke-width="0.55">9042</text>
<text transform="translate(1378.28,101.7) rotate(90) scale(0.86,1)" font-family='"Liberation Sans", sans-serif' font-size="28" fill="#0a0a0a" stroke="#0a0a0a" stroke-width="0.55">9040</text>
<text transform="translate(1413.03,101.7) rotate(90) scale(0.86,1)" font-family='"Liberation Sans", sans-serif' font-size="28" fill="#0a0a0a" stroke="#0a0a0a" stroke-width="0.55">9038</text>
<text transform="translate(1446.88,101.7) rotate(90) scale(0.86,1)" font-family='"Liberation Sans", sans-serif' font-size="28" fill="#0a0a0a" stroke="#0a0a0a" stroke-width="0.55">9036</text>
<text transform="translate(1479.98,101.7) rotate(90) scale(0.86,1)" font-family='"Liberation Sans", sans-serif' font-size="28" fill="#0a0a0a" stroke="#0a0a0a" stroke-width="0.55">9034</text>
<text transform="translate(1512.98,101.7) rotate(90) scale(0.86,1)" font-family='"Liberation Sans", sans-serif' font-size="28" fill="#0a0a0a" stroke="#0a0a0a" stroke-width="0.55">9032</text>
<text transform="translate(1546.53,101.7) rotate(90) scale(0.86,1)" font-family='"Liberation Sans", sans-serif' font-size="28" fill="#0a0a0a" stroke="#0a0a0a" stroke-width="0.55">9030</text>
<text transform="translate(1585.58,101.7) rotate(90) scale(0.86,1)" font-family='"Liberation Sans", sans-serif' font-size="28" fill="#0a0a0a" stroke="#0a0a0a" stroke-width="0.55">9028</text>
<text transform="translate(1635.73,101.7) rotate(90) scale(0.86,1)" font-family='"Liberation Sans", sans-serif' font-size="28" fill="#0a0a0a" stroke="#0a0a0a" stroke-width="0.55">9026</text>
<text transform="translate(1791.23,101.7) rotate(90) scale(0.86,1)" font-family='"Liberation Sans", sans-serif' font-size="28" fill="#0a0a0a" stroke="#0a0a0a" stroke-width="0.55">9024</text>
<text transform="translate(1825.23,101.7) rotate(90) scale(0.86,1)" font-family='"Liberation Sans", sans-serif' font-size="28" fill="#0a0a0a" stroke="#0a0a0a" stroke-width="0.55">9022</text>
<text transform="translate(1858.33,101.7) rotate(90) scale(0.86,1)" font-family='"Liberation Sans", sans-serif' font-size="28" fill="#0a0a0a" stroke="#0a0a0a" stroke-width="0.55">9020</text>
<text transform="translate(1891.53,101.7) rotate(90) scale(0.86,1)" font-family='"Liberation Sans", sans-serif' font-size="28" fill="#0a0a0a" stroke="#0a0a0a" stroke-width="0.55">9018</text>
<text transform="translate(1925.18,101.7) rotate(90) scale(0.86,1)" font-family='"Liberation Sans", sans-serif' font-size="28" fill="#0a0a0a" stroke="#0a0a0a" stroke-width="0.55">9016</text>
<text transform="translate(1958.58,101.7) rotate(90) scale(0.86,1)" font-family='"Liberation Sans", sans-serif' font-size="28" fill="#0a0a0a" stroke="#0a0a0a" stroke-width="0.55">9014</text>
<text transform="translate(1991.78,101.7) rotate(90) scale(0.86,1)" font-family='"Liberation Sans", sans-serif' font-size="28" fill="#0a0a0a" stroke="#0a0a0a" stroke-width="0.55">9012</text>
<text transform="translate(2025.13,101.7) rotate(90) scale(0.86,1)" font-family='"Liberation Sans", sans-serif' font-size="28" fill="#0a0a0a" stroke="#0a0a0a" stroke-width="0.55">9010</text>
<text transform="translate(2058.93,101.7) rotate(90) scale(0.86,1)" font-family='"Liberation Sans", sans-serif' font-size="28" fill="#0a0a0a" stroke="#0a0a0a" stroke-width="0.55">9008</text>
<text transform="translate(2225.83,101.7) rotate(90) scale(0.86,1)" font-family='"Liberation Sans", sans-serif' font-size="28" fill="#0a0a0a" stroke="#0a0a0a" stroke-width="0.55">9006</text>
<text transform="translate(2260.68,101.7) rotate(90) scale(0.86,1)" font-family='"Liberation Sans", sans-serif' font-size="28" fill="#0a0a0a" stroke="#0a0a0a" stroke-width="0.55">9004</text>
<text transform="translate(503.28,244.8) rotate(90) scale(0.86,1)" font-family='"Liberation Sans", sans-serif' font-size="28" fill="#0a0a0a" stroke="#0a0a0a" stroke-width="0.55">9087</text>
<text transform="translate(536.48,244.8) rotate(90) scale(0.86,1)" font-family='"Liberation Sans", sans-serif' font-size="28" fill="#0a0a0a" stroke="#0a0a0a" stroke-width="0.55">9085</text>
<text transform="translate(570.23,244.8) rotate(90) scale(0.86,1)" font-family='"Liberation Sans", sans-serif' font-size="28" fill="#0a0a0a" stroke="#0a0a0a" stroke-width="0.55">9083</text>
<text transform="translate(603.38,244.8) rotate(90) scale(0.86,1)" font-family='"Liberation Sans", sans-serif' font-size="28" fill="#0a0a0a" stroke="#0a0a0a" stroke-width="0.55">9081</text>
<text transform="translate(636.28,244.8) rotate(90) scale(0.86,1)" font-family='"Liberation Sans", sans-serif' font-size="28" fill="#0a0a0a" stroke="#0a0a0a" stroke-width="0.55">9079</text>
<text transform="translate(669.68,244.8) rotate(90) scale(0.86,1)" font-family='"Liberation Sans", sans-serif' font-size="28" fill="#0a0a0a" stroke="#0a0a0a" stroke-width="0.55">9077</text>
<text transform="translate(702.93,244.8) rotate(90) scale(0.86,1)" font-family='"Liberation Sans", sans-serif' font-size="28" fill="#0a0a0a" stroke="#0a0a0a" stroke-width="0.55">9075</text>
<text transform="translate(735.53,244.8) rotate(90) scale(0.86,1)" font-family='"Liberation Sans", sans-serif' font-size="28" fill="#0a0a0a" stroke="#0a0a0a" stroke-width="0.55">9073</text>
<text transform="translate(768.63,244.8) rotate(90) scale(0.86,1)" font-family='"Liberation Sans", sans-serif' font-size="28" fill="#0a0a0a" stroke="#0a0a0a" stroke-width="0.55">9071</text>
<text transform="translate(813.78,244.8) rotate(90) scale(0.86,1)" font-family='"Liberation Sans", sans-serif' font-size="28" fill="#0a0a0a" stroke="#0a0a0a" stroke-width="0.55">9069</text>
<text transform="translate(867.28,244.8) rotate(90) scale(0.86,1)" font-family='"Liberation Sans", sans-serif' font-size="28" fill="#0a0a0a" stroke="#0a0a0a" stroke-width="0.55">9067</text>
<text transform="translate(911.08,244.8) rotate(90) scale(0.86,1)" font-family='"Liberation Sans", sans-serif' font-size="28" fill="#0a0a0a" stroke="#0a0a0a" stroke-width="0.55">9065</text>
<text transform="translate(946.18,244.8) rotate(90) scale(0.86,1)" font-family='"Liberation Sans", sans-serif' font-size="28" fill="#0a0a0a" stroke="#0a0a0a" stroke-width="0.55">9063</text>
<text transform="translate(1078.33,244.8) rotate(90) scale(0.86,1)" font-family='"Liberation Sans", sans-serif' font-size="28" fill="#0a0a0a" stroke="#0a0a0a" stroke-width="0.55">9061</text>
<text transform="translate(1112.13,244.8) rotate(90) scale(0.86,1)" font-family='"Liberation Sans", sans-serif' font-size="28" fill="#0a0a0a" stroke="#0a0a0a" stroke-width="0.55">9059</text>
<text transform="translate(1145.13,244.8) rotate(90) scale(0.86,1)" font-family='"Liberation Sans", sans-serif' font-size="28" fill="#0a0a0a" stroke="#0a0a0a" stroke-width="0.55">9057</text>
<text transform="translate(1178.43,244.8) rotate(90) scale(0.86,1)" font-family='"Liberation Sans", sans-serif' font-size="28" fill="#0a0a0a" stroke="#0a0a0a" stroke-width="0.55">9055</text>
<text transform="translate(1212.18,244.8) rotate(90) scale(0.86,1)" font-family='"Liberation Sans", sans-serif' font-size="28" fill="#0a0a0a" stroke="#0a0a0a" stroke-width="0.55">9053</text>
<text transform="translate(1245.43,244.8) rotate(90) scale(0.86,1)" font-family='"Liberation Sans", sans-serif' font-size="28" fill="#0a0a0a" stroke="#0a0a0a" stroke-width="0.55">9051</text>
<text transform="translate(1278.68,244.8) rotate(90) scale(0.86,1)" font-family='"Liberation Sans", sans-serif' font-size="28" fill="#0a0a0a" stroke="#0a0a0a" stroke-width="0.55">9049</text>
<text transform="translate(1311.78,244.8) rotate(90) scale(0.86,1)" font-family='"Liberation Sans", sans-serif' font-size="28" fill="#0a0a0a" stroke="#0a0a0a" stroke-width="0.55">9047</text>
<text transform="translate(1540.23,244.8) rotate(90) scale(0.86,1)" font-family='"Liberation Sans", sans-serif' font-size="28" fill="#0a0a0a" stroke="#0a0a0a" stroke-width="0.55">9045</text>
<text transform="translate(1579.98,244.8) rotate(90) scale(0.86,1)" font-family='"Liberation Sans", sans-serif' font-size="28" fill="#0a0a0a" stroke="#0a0a0a" stroke-width="0.55">9043</text>
<text transform="translate(1688.48,244.8) rotate(90) scale(0.86,1)" font-family='"Liberation Sans", sans-serif' font-size="28" fill="#0a0a0a" stroke="#0a0a0a" stroke-width="0.55">9039</text>
<text transform="translate(1723.08,244.8) rotate(90) scale(0.86,1)" font-family='"Liberation Sans", sans-serif' font-size="28" fill="#0a0a0a" stroke="#0a0a0a" stroke-width="0.55">9037</text>
<text transform="translate(1757.38,244.8) rotate(90) scale(0.86,1)" font-family='"Liberation Sans", sans-serif' font-size="28" fill="#0a0a0a" stroke="#0a0a0a" stroke-width="0.55">9035</text>
<text transform="translate(1791.23,244.8) rotate(90) scale(0.86,1)" font-family='"Liberation Sans", sans-serif' font-size="28" fill="#0a0a0a" stroke="#0a0a0a" stroke-width="0.55">9033</text>
<text transform="translate(1824.58,244.8) rotate(90) scale(0.86,1)" font-family='"Liberation Sans", sans-serif' font-size="28" fill="#0a0a0a" stroke="#0a0a0a" stroke-width="0.55">9031</text>
<text transform="translate(1857.88,244.8) rotate(90) scale(0.86,1)" font-family='"Liberation Sans", sans-serif' font-size="28" fill="#0a0a0a" stroke="#0a0a0a" stroke-width="0.55">9029</text>
<text transform="translate(1891.48,244.8) rotate(90) scale(0.86,1)" font-family='"Liberation Sans", sans-serif' font-size="28" fill="#0a0a0a" stroke="#0a0a0a" stroke-width="0.55">9027</text>
<text transform="translate(1925.33,244.8) rotate(90) scale(0.86,1)" font-family='"Liberation Sans", sans-serif' font-size="28" fill="#0a0a0a" stroke="#0a0a0a" stroke-width="0.55">9025</text>
<text transform="translate(1958.58,244.8) rotate(90) scale(0.86,1)" font-family='"Liberation Sans", sans-serif' font-size="28" fill="#0a0a0a" stroke="#0a0a0a" stroke-width="0.55">9023</text>
<text transform="translate(1991.63,244.8) rotate(90) scale(0.86,1)" font-family='"Liberation Sans", sans-serif' font-size="28" fill="#0a0a0a" stroke="#0a0a0a" stroke-width="0.55">9021</text>
<text transform="translate(2025.23,244.8) rotate(90) scale(0.86,1)" font-family='"Liberation Sans", sans-serif' font-size="28" fill="#0a0a0a" stroke="#0a0a0a" stroke-width="0.55">9019</text>
<text transform="translate(2058.93,244.8) rotate(90) scale(0.86,1)" font-family='"Liberation Sans", sans-serif' font-size="28" fill="#0a0a0a" stroke="#0a0a0a" stroke-width="0.55">9017</text>
<text transform="translate(2092.18,244.8) rotate(90) scale(0.86,1)" font-family='"Liberation Sans", sans-serif' font-size="28" fill="#0a0a0a" stroke="#0a0a0a" stroke-width="0.55">9015</text>
<text transform="translate(2125.48,244.8) rotate(90) scale(0.86,1)" font-family='"Liberation Sans", sans-serif' font-size="28" fill="#0a0a0a" stroke="#0a0a0a" stroke-width="0.55">9011</text>
<text transform="translate(2158.83,244.8) rotate(90) scale(0.86,1)" font-family='"Liberation Sans", sans-serif' font-size="28" fill="#0a0a0a" stroke="#0a0a0a" stroke-width="0.55">9009</text>
<text transform="translate(2192.23,244.8) rotate(90) scale(0.86,1)" font-family='"Liberation Sans", sans-serif' font-size="28" fill="#0a0a0a" stroke="#0a0a0a" stroke-width="0.55">9007</text>
<text transform="translate(2225.73,244.8) rotate(90) scale(0.86,1)" font-family='"Liberation Sans", sans-serif' font-size="28" fill="#0a0a0a" stroke="#0a0a0a" stroke-width="0.55">9005</text>
<text transform="translate(2260.83,244.8) rotate(90) scale(0.86,1)" font-family='"Liberation Sans", sans-serif' font-size="28" fill="#0a0a0a" stroke="#0a0a0a" stroke-width="0.55">9003</text>
<text transform="translate(474.98,244.8) rotate(90) scale(0.86,1)" font-family='"Liberation Sans", sans-serif' font-size="28" fill="#0a0a0a" stroke="#0a0a0a" stroke-width="0.55">9089</text>
<text transform="translate(1622.48,244.8) rotate(90) scale(0.86,1)" font-family='"Liberation Sans", sans-serif' font-size="28" fill="#0a0a0a" stroke="#0a0a0a" stroke-width="0.55">9041</text>
<text transform="translate(2310.48,101.7) rotate(90) scale(0.86,1)" font-family='"Liberation Sans", sans-serif' font-size="28" fill="#0a0a0a" stroke="#0a0a0a" stroke-width="0.55">9002</text>
<text transform="translate(2310.48,244.8) rotate(90) scale(0.86,1)" font-family='"Liberation Sans", sans-serif' font-size="28" fill="#0a0a0a" stroke="#0a0a0a" stroke-width="0.55">9001</text>
<text transform="translate(202,94.6) scale(0.92,1)" font-family='"Liberation Sans", sans-serif' font-size="26.8" fill="#0a0a0a" stroke="#0a0a0a" stroke-width="0.55">9086</text>
<path d="M259.3,92.8 L264.3,83.6 L269.3,92.8 Z" fill="#0a0a0a"/>
<text transform="translate(202,137.4) scale(0.92,1)" font-family='"Liberation Sans", sans-serif' font-size="26.8" fill="#0a0a0a" stroke="#0a0a0a" stroke-width="0.55">9088</text>
<path d="M259.3,132.4 L264.3,123.2 L269.3,132.4 Z" fill="#0a0a0a"/>
<text transform="translate(202,185.2) scale(0.92,1)" font-family='"Liberation Sans", sans-serif' font-size="26.8" fill="#0a0a0a" stroke="#0a0a0a" stroke-width="0.55">9090</text>
<path d="M259.3,182.2 L264.3,173 L269.3,182.2 Z" fill="#0a0a0a"/>
<text transform="translate(202,239.2) scale(0.92,1)" font-family='"Liberation Sans", sans-serif' font-size="26.8" fill="#0a0a0a" stroke="#0a0a0a" stroke-width="0.55">9095</text>
<path d="M259.3,233.6 L264.3,224.4 L269.3,233.6 Z" fill="#0a0a0a"/>
<text transform="translate(202,278) scale(0.92,1)" font-family='"Liberation Sans", sans-serif' font-size="26.8" fill="#0a0a0a" stroke="#0a0a0a" stroke-width="0.55">9093</text>
<text transform="translate(202,325.8) scale(0.92,1)" font-family='"Liberation Sans", sans-serif' font-size="26.8" fill="#0a0a0a" stroke="#0a0a0a" stroke-width="0.55">9091</text>
<path d="M259.6,323.4 L264.6,314.2 L269.6,323.4 Z" fill="#0a0a0a"/>
<path d="M289,94.1 L282.5,103.7 L295.5,103.7 Z M289,127.3 L282.5,117.7 L295.5,117.7 Z" fill="#0a0a0a"/>
<path d="M289,102.7 L289,118.7" stroke="#0a0a0a" stroke-width="3.3"/>
<path d="M480.65,169.9 L489.95,174.8 L480.65,179.7 Z" fill="#0a0a0a"/>
<path d="M533.05,169.9 L542.35,174.8 L533.05,179.7 Z" fill="#0a0a0a"/>
<path d="M741.25,170.5 L750.55,175.4 L741.25,180.3 Z" fill="#0a0a0a"/>
<path d="M775.85,170.5 L785.15,175.4 L775.85,180.3 Z" fill="#0a0a0a"/>
<path d="M816.85,170.5 L826.15,175.4 L816.85,180.3 Z" fill="#0a0a0a"/>
<path d="M1115.35,167.7 L1124.65,172.6 L1115.35,177.5 Z" fill="#0a0a0a"/>
<path d="M1588.25,167.7 L1597.55,172.6 L1588.25,177.5 Z" fill="#0a0a0a"/>
<path d="M1642.35,167.7 L1651.65,172.6 L1642.35,177.5 Z" fill="#0a0a0a"/>
<path d="M1861.25,175.5 L1870.55,180.4 L1861.25,185.3 Z" fill="#0a0a0a"/>
<path d="M1894.55,175.5 L1903.85,180.4 L1894.55,185.3 Z" fill="#0a0a0a"/>
<path d="M2063.55,175.5 L2072.85,180.4 L2063.55,185.3 Z" fill="#0a0a0a"/>
<path d="M2296.35,155.9 L2305.65,160.8 L2296.35,165.7 Z" fill="#0a0a0a"/>
<g transform="translate(345.1,161.4)">
<path d="M10.6,-0.6 C7,-1.6 4,-3.1 1.2,-4.9 C-0.3,-5.9 -2,-6.4 -4,-6.4 C-7.6,-6.4 -10.5,-3.6 -10.5,0 C-10.5,3.6 -7.6,6.4 -4,6.4 C-2,6.4 -0.3,5.8 1.2,4.5 C4,2.3 7,0.5 10.6,-0.6 Z" fill="#ffffff" stroke="#454545" stroke-width="1.1"/>
<path d="M-6.8,-4.5 L-0.6,-4 L-1.1,-2 L-6.4,-1.6 Z" fill="#0a0a0a"/>
</g>
<g transform="translate(378.3,161.4)">
<path d="M10.6,-0.6 C7,-1.6 4,-3.1 1.2,-4.9 C-0.3,-5.9 -2,-6.4 -4,-6.4 C-7.6,-6.4 -10.5,-3.6 -10.5,0 C-10.5,3.6 -7.6,6.4 -4,6.4 C-2,6.4 -0.3,5.8 1.2,4.5 C4,2.3 7,0.5 10.6,-0.6 Z" fill="#ffffff" stroke="#454545" stroke-width="1.1"/>
<path d="M-6.8,-4.5 L-0.6,-4 L-1.1,-2 L-6.4,-1.6 Z" fill="#0a0a0a"/>
</g>
<g transform="translate(445.55,161.4)">
<path d="M10.6,-0.6 C7,-1.6 4,-3.1 1.2,-4.9 C-0.3,-5.9 -2,-6.4 -4,-6.4 C-7.6,-6.4 -10.5,-3.6 -10.5,0 C-10.5,3.6 -7.6,6.4 -4,6.4 C-2,6.4 -0.3,5.8 1.2,4.5 C4,2.3 7,0.5 10.6,-0.6 Z" fill="#ffffff" stroke="#454545" stroke-width="1.1"/>
<path d="M-6.8,-4.5 L-0.6,-4 L-1.1,-2 L-6.4,-1.6 Z" fill="#0a0a0a"/>
</g>
<g transform="translate(1354.15,167.3)">
<path d="M10.6,-0.6 C7,-1.6 4,-3.1 1.2,-4.9 C-0.3,-5.9 -2,-6.4 -4,-6.4 C-7.6,-6.4 -10.5,-3.6 -10.5,0 C-10.5,3.6 -7.6,6.4 -4,6.4 C-2,6.4 -0.3,5.8 1.2,4.5 C4,2.3 7,0.5 10.6,-0.6 Z" fill="#ffffff" stroke="#454545" stroke-width="1.1"/>
<path d="M-6.8,-4.5 L-0.6,-4 L-1.1,-2 L-6.4,-1.6 Z" fill="#0a0a0a"/>
</g>
<g transform="translate(1388.3,167.3)">
<path d="M10.6,-0.6 C7,-1.6 4,-3.1 1.2,-4.9 C-0.3,-5.9 -2,-6.4 -4,-6.4 C-7.6,-6.4 -10.5,-3.6 -10.5,0 C-10.5,3.6 -7.6,6.4 -4,6.4 C-2,6.4 -0.3,5.8 1.2,4.5 C4,2.3 7,0.5 10.6,-0.6 Z" fill="#ffffff" stroke="#454545" stroke-width="1.1"/>
<path d="M-6.8,-4.5 L-0.6,-4 L-1.1,-2 L-6.4,-1.6 Z" fill="#0a0a0a"/>
</g>
<g transform="translate(1423.05,167.3)">
<path d="M10.6,-0.6 C7,-1.6 4,-3.1 1.2,-4.9 C-0.3,-5.9 -2,-6.4 -4,-6.4 C-7.6,-6.4 -10.5,-3.6 -10.5,0 C-10.5,3.6 -7.6,6.4 -4,6.4 C-2,6.4 -0.3,5.8 1.2,4.5 C4,2.3 7,0.5 10.6,-0.6 Z" fill="#ffffff" stroke="#454545" stroke-width="1.1"/>
<path d="M-6.8,-4.5 L-0.6,-4 L-1.1,-2 L-6.4,-1.6 Z" fill="#0a0a0a"/>
</g>
<g transform="translate(1456.9,167.3)">
<path d="M10.6,-0.6 C7,-1.6 4,-3.1 1.2,-4.9 C-0.3,-5.9 -2,-6.4 -4,-6.4 C-7.6,-6.4 -10.5,-3.6 -10.5,0 C-10.5,3.6 -7.6,6.4 -4,6.4 C-2,6.4 -0.3,5.8 1.2,4.5 C4,2.3 7,0.5 10.6,-0.6 Z" fill="#ffffff" stroke="#454545" stroke-width="1.1"/>
<path d="M-6.8,-4.5 L-0.6,-4 L-1.1,-2 L-6.4,-1.6 Z" fill="#0a0a0a"/>
</g>
<g transform="translate(1490,167.3)">
<path d="M10.6,-0.6 C7,-1.6 4,-3.1 1.2,-4.9 C-0.3,-5.9 -2,-6.4 -4,-6.4 C-7.6,-6.4 -10.5,-3.6 -10.5,0 C-10.5,3.6 -7.6,6.4 -4,6.4 C-2,6.4 -0.3,5.8 1.2,4.5 C4,2.3 7,0.5 10.6,-0.6 Z" fill="#ffffff" stroke="#454545" stroke-width="1.1"/>
<path d="M-6.8,-4.5 L-0.6,-4 L-1.1,-2 L-6.4,-1.6 Z" fill="#0a0a0a"/>
</g>
<g transform="translate(1523,167.3)">
<path d="M10.6,-0.6 C7,-1.6 4,-3.1 1.2,-4.9 C-0.3,-5.9 -2,-6.4 -4,-6.4 C-7.6,-6.4 -10.5,-3.6 -10.5,0 C-10.5,3.6 -7.6,6.4 -4,6.4 C-2,6.4 -0.3,5.8 1.2,4.5 C4,2.3 7,0.5 10.6,-0.6 Z" fill="#ffffff" stroke="#454545" stroke-width="1.1"/>
<path d="M-6.8,-4.5 L-0.6,-4 L-1.1,-2 L-6.4,-1.6 Z" fill="#0a0a0a"/>
</g>
<g transform="translate(778.55,162.8)">
<path d="M10.6,-0.6 C7,-1.6 4,-3.1 1.2,-4.9 C-0.3,-5.9 -2,-6.4 -4,-6.4 C-7.6,-6.4 -10.5,-3.6 -10.5,0 C-10.5,3.6 -7.6,6.4 -4,6.4 C-2,6.4 -0.3,5.8 1.2,4.5 C4,2.3 7,0.5 10.6,-0.6 Z" fill="#ffffff" stroke="#454545" stroke-width="1.1"/>
<path d="M-6.8,-4.5 L-0.6,-4 L-1.1,-2 L-6.4,-1.6 Z" fill="#0a0a0a"/>
</g>
<path d="M414.2,175 L423.8,169.1 L423.8,180.9 Z M447.2,175 L437.6,169.1 L437.6,180.9 Z" fill="#0a0a0a"/>
<path d="M422.8,175 L438.6,175" stroke="#0a0a0a" stroke-width="3.3"/>
<path d="M1157.8,175 L1167.4,169.1 L1167.4,180.9 Z M1190.8,175 L1181.2,169.1 L1181.2,180.9 Z" fill="#0a0a0a"/>
<path d="M1166.4,175 L1182.2,175" stroke="#0a0a0a" stroke-width="3.3"/>
<path d="M480.95,212.3 L490.25,217.2 L480.95,222.1 Z" fill="#0a0a0a"/>
<path d="M507.95,212.4 L517.25,217.3 L507.95,222.2 Z" fill="#0a0a0a"/>
<path d="M710.75,212.3 L720.05,217.2 L710.75,222.1 Z" fill="#0a0a0a"/>
<path d="M739.85,212.3 L749.15,217.2 L739.85,222.1 Z" fill="#0a0a0a"/>
<path d="M773.65,212.3 L782.95,217.2 L773.65,222.1 Z" fill="#0a0a0a"/>
<path d="M817.35,212.6 L826.65,217.5 L817.35,222.4 Z" fill="#0a0a0a"/>
<path d="M871.35,212.6 L880.65,217.5 L871.35,222.4 Z" fill="#0a0a0a"/>
<path d="M1151.35,215.1 L1160.65,220 L1151.35,224.9 Z" fill="#0a0a0a"/>
<path d="M1319.15,213.9 L1328.45,218.8 L1319.15,223.7 Z" fill="#0a0a0a"/>
<path d="M1545.35,213.9 L1554.65,218.8 L1545.35,223.7 Z" fill="#0a0a0a"/>
<path d="M1586.35,213.9 L1595.65,218.8 L1586.35,223.7 Z" fill="#0a0a0a"/>
<path d="M1829.35,213.9 L1838.65,218.8 L1829.35,223.7 Z" fill="#0a0a0a"/>
<path d="M1862.65,213.9 L1871.95,218.8 L1862.65,223.7 Z" fill="#0a0a0a"/>
<path d="M2200.75,217.9 L2210.05,222.8 L2200.75,227.7 Z" fill="#0a0a0a"/>
<path d="M2296.35,226.1 L2305.65,231 L2296.35,235.9 Z" fill="#0a0a0a"/>
<g transform="translate(546.7,233.8)">
<path d="M10.6,-0.6 C7,-1.6 4,-3.1 1.2,-4.9 C-0.3,-5.9 -2,-6.4 -4,-6.4 C-7.6,-6.4 -10.5,-3.6 -10.5,0 C-10.5,3.6 -7.6,6.4 -4,6.4 C-2,6.4 -0.3,5.8 1.2,4.5 C4,2.3 7,0.5 10.6,-0.6 Z" fill="#ffffff" stroke="#454545" stroke-width="1.1"/>
<path d="M-6.8,-4.5 L-0.6,-4 L-1.1,-2 L-6.4,-1.6 Z" fill="#0a0a0a"/>
</g>
<g transform="translate(646.5,233.8)">
<path d="M10.6,-0.6 C7,-1.6 4,-3.1 1.2,-4.9 C-0.3,-5.9 -2,-6.4 -4,-6.4 C-7.6,-6.4 -10.5,-3.6 -10.5,0 C-10.5,3.6 -7.6,6.4 -4,6.4 C-2,6.4 -0.3,5.8 1.2,4.5 C4,2.3 7,0.5 10.6,-0.6 Z" fill="#ffffff" stroke="#454545" stroke-width="1.1"/>
<path d="M-6.8,-4.5 L-0.6,-4 L-1.1,-2 L-6.4,-1.6 Z" fill="#0a0a0a"/>
</g>
<g transform="translate(713.15,233.8)">
<path d="M10.6,-0.6 C7,-1.6 4,-3.1 1.2,-4.9 C-0.3,-5.9 -2,-6.4 -4,-6.4 C-7.6,-6.4 -10.5,-3.6 -10.5,0 C-10.5,3.6 -7.6,6.4 -4,6.4 C-2,6.4 -0.3,5.8 1.2,4.5 C4,2.3 7,0.5 10.6,-0.6 Z" fill="#ffffff" stroke="#454545" stroke-width="1.1"/>
<path d="M-6.8,-4.5 L-0.6,-4 L-1.1,-2 L-6.4,-1.6 Z" fill="#0a0a0a"/>
</g>
<g transform="translate(745.75,233.8)">
<path d="M10.6,-0.6 C7,-1.6 4,-3.1 1.2,-4.9 C-0.3,-5.9 -2,-6.4 -4,-6.4 C-7.6,-6.4 -10.5,-3.6 -10.5,0 C-10.5,3.6 -7.6,6.4 -4,6.4 C-2,6.4 -0.3,5.8 1.2,4.5 C4,2.3 7,0.5 10.6,-0.6 Z" fill="#ffffff" stroke="#454545" stroke-width="1.1"/>
<path d="M-6.8,-4.5 L-0.6,-4 L-1.1,-2 L-6.4,-1.6 Z" fill="#0a0a0a"/>
</g>
<g transform="translate(778.85,233.8)">
<path d="M10.6,-0.6 C7,-1.6 4,-3.1 1.2,-4.9 C-0.3,-5.9 -2,-6.4 -4,-6.4 C-7.6,-6.4 -10.5,-3.6 -10.5,0 C-10.5,3.6 -7.6,6.4 -4,6.4 C-2,6.4 -0.3,5.8 1.2,4.5 C4,2.3 7,0.5 10.6,-0.6 Z" fill="#ffffff" stroke="#454545" stroke-width="1.1"/>
<path d="M-6.8,-4.5 L-0.6,-4 L-1.1,-2 L-6.4,-1.6 Z" fill="#0a0a0a"/>
</g>
<g transform="translate(957.35,233.8)">
<path d="M10.6,-0.6 C7,-1.6 4,-3.1 1.2,-4.9 C-0.3,-5.9 -2,-6.4 -4,-6.4 C-7.6,-6.4 -10.5,-3.6 -10.5,0 C-10.5,3.6 -7.6,6.4 -4,6.4 C-2,6.4 -0.3,5.8 1.2,4.5 C4,2.3 7,0.5 10.6,-0.6 Z" fill="#ffffff" stroke="#454545" stroke-width="1.1"/>
<path d="M-6.8,-4.5 L-0.6,-4 L-1.1,-2 L-6.4,-1.6 Z" fill="#0a0a0a"/>
</g>
<g transform="translate(1698.7,233.8)">
<path d="M10.6,-0.6 C7,-1.6 4,-3.1 1.2,-4.9 C-0.3,-5.9 -2,-6.4 -4,-6.4 C-7.6,-6.4 -10.5,-3.6 -10.5,0 C-10.5,3.6 -7.6,6.4 -4,6.4 C-2,6.4 -0.3,5.8 1.2,4.5 C4,2.3 7,0.5 10.6,-0.6 Z" fill="#ffffff" stroke="#454545" stroke-width="1.1"/>
<path d="M-6.8,-4.5 L-0.6,-4 L-1.1,-2 L-6.4,-1.6 Z" fill="#0a0a0a"/>
</g>
<g transform="translate(1733.3,233.8)">
<path d="M10.6,-0.6 C7,-1.6 4,-3.1 1.2,-4.9 C-0.3,-5.9 -2,-6.4 -4,-6.4 C-7.6,-6.4 -10.5,-3.6 -10.5,0 C-10.5,3.6 -7.6,6.4 -4,6.4 C-2,6.4 -0.3,5.8 1.2,4.5 C4,2.3 7,0.5 10.6,-0.6 Z" fill="#ffffff" stroke="#454545" stroke-width="1.1"/>
<path d="M-6.8,-4.5 L-0.6,-4 L-1.1,-2 L-6.4,-1.6 Z" fill="#0a0a0a"/>
</g>
<g transform="translate(1767.6,233.8)">
<path d="M10.6,-0.6 C7,-1.6 4,-3.1 1.2,-4.9 C-0.3,-5.9 -2,-6.4 -4,-6.4 C-7.6,-6.4 -10.5,-3.6 -10.5,0 C-10.5,3.6 -7.6,6.4 -4,6.4 C-2,6.4 -0.3,5.8 1.2,4.5 C4,2.3 7,0.5 10.6,-0.6 Z" fill="#ffffff" stroke="#454545" stroke-width="1.1"/>
<path d="M-6.8,-4.5 L-0.6,-4 L-1.1,-2 L-6.4,-1.6 Z" fill="#0a0a0a"/>
</g>
<g transform="translate(1801.45,233.8)">
<path d="M10.6,-0.6 C7,-1.6 4,-3.1 1.2,-4.9 C-0.3,-5.9 -2,-6.4 -4,-6.4 C-7.6,-6.4 -10.5,-3.6 -10.5,0 C-10.5,3.6 -7.6,6.4 -4,6.4 C-2,6.4 -0.3,5.8 1.2,4.5 C4,2.3 7,0.5 10.6,-0.6 Z" fill="#ffffff" stroke="#454545" stroke-width="1.1"/>
<path d="M-6.8,-4.5 L-0.6,-4 L-1.1,-2 L-6.4,-1.6 Z" fill="#0a0a0a"/>
</g>
<g transform="translate(1834.8,233.8)">
<path d="M10.6,-0.6 C7,-1.6 4,-3.1 1.2,-4.9 C-0.3,-5.9 -2,-6.4 -4,-6.4 C-7.6,-6.4 -10.5,-3.6 -10.5,0 C-10.5,3.6 -7.6,6.4 -4,6.4 C-2,6.4 -0.3,5.8 1.2,4.5 C4,2.3 7,0.5 10.6,-0.6 Z" fill="#ffffff" stroke="#454545" stroke-width="1.1"/>
<path d="M-6.8,-4.5 L-0.6,-4 L-1.1,-2 L-6.4,-1.6 Z" fill="#0a0a0a"/>
</g>
<g transform="translate(1868.1,233.8)">
<path d="M10.6,-0.6 C7,-1.6 4,-3.1 1.2,-4.9 C-0.3,-5.9 -2,-6.4 -4,-6.4 C-7.6,-6.4 -10.5,-3.6 -10.5,0 C-10.5,3.6 -7.6,6.4 -4,6.4 C-2,6.4 -0.3,5.8 1.2,4.5 C4,2.3 7,0.5 10.6,-0.6 Z" fill="#ffffff" stroke="#454545" stroke-width="1.1"/>
<path d="M-6.8,-4.5 L-0.6,-4 L-1.1,-2 L-6.4,-1.6 Z" fill="#0a0a0a"/>
</g>
<path d="M548.3,215.2 L557.9,209.3 L557.9,221.1 Z M581.3,215.2 L571.7,209.3 L571.7,221.1 Z" fill="#0a0a0a"/>
<path d="M556.9,215.2 L572.7,215.2" stroke="#0a0a0a" stroke-width="3.3"/>
<path d="M924.1,215.2 L933.7,209.3 L933.7,221.1 Z M957.1,215.2 L947.5,209.3 L947.5,221.1 Z" fill="#0a0a0a"/>
<path d="M932.7,215.2 L948.5,215.2" stroke="#0a0a0a" stroke-width="3.3"/>
<path d="M1089.9,215.2 L1099.5,209.3 L1099.5,221.1 Z M1122.9,215.2 L1113.3,209.3 L1113.3,221.1 Z" fill="#0a0a0a"/>
<path d="M1098.5,215.2 L1114.3,215.2" stroke="#0a0a0a" stroke-width="3.3"/>
<path d="M1156.9,215.2 L1166.5,209.3 L1166.5,221.1 Z M1189.9,215.2 L1180.3,209.3 L1180.3,221.1 Z" fill="#0a0a0a"/>
<path d="M1165.5,215.2 L1181.3,215.2" stroke="#0a0a0a" stroke-width="3.3"/>
<path d="M1700,215.2 L1709.6,209.3 L1709.6,221.1 Z M1733,215.2 L1723.4,209.3 L1723.4,221.1 Z" fill="#0a0a0a"/>
<path d="M1708.6,215.2 L1724.4,215.2" stroke="#0a0a0a" stroke-width="3.3"/>
<path d="M1769.1,215.2 L1778.7,209.3 L1778.7,221.1 Z M1802.1,215.2 L1792.5,209.3 L1792.5,221.1 Z" fill="#0a0a0a"/>
<path d="M1777.7,215.2 L1793.5,215.2" stroke="#0a0a0a" stroke-width="3.3"/>
<path d="M2035.5,215.2 L2045.1,209.3 L2045.1,221.1 Z M2068.5,215.2 L2058.9,209.3 L2058.9,221.1 Z" fill="#0a0a0a"/>
<path d="M2044.1,215.2 L2059.9,215.2" stroke="#0a0a0a" stroke-width="3.3"/>
<path d="M2273,218 L2282.6,212.1 L2282.6,223.9 Z M2306,218 L2296.4,212.1 L2296.4,223.9 Z" fill="#0a0a0a"/>
<path d="M2281.6,218 L2297.4,218" stroke="#0a0a0a" stroke-width="3.3"/>
<g transform="translate(1632.6,228.4) rotate(90)" fill="none" stroke="#0a0a0a" stroke-width="1.9" stroke-linecap="round" stroke-linejoin="round"><circle cx="-3" cy="-10.2" r="2.2" fill="#0a0a0a" stroke="none"/><path d="M-3,-7.4 L-3,0 L4,0 L7.2,7.8 L10,6.6"/><path d="M-3,-3.8 L3.4,-3.8"/><path d="M-5.9,0.2 A6.6,6.6 0 1 0 5.3,7.2"/></g>
<text transform="translate(1691,75) scale(0.62,1.02)" text-anchor="middle" font-family='"Liberation Sans", sans-serif' font-weight="bold" font-size="31" fill="#0b1020" stroke="#0b1020" stroke-width="1.1">E</text>
<text transform="translate(1728.15,75) scale(0.62,1.02)" text-anchor="middle" font-family='"Liberation Sans", sans-serif' font-weight="bold" font-size="31" fill="#0b1020" stroke="#0b1020" stroke-width="1.1">E</text>
<text transform="translate(1765.4,75) scale(0.62,1.02)" text-anchor="middle" font-family='"Liberation Sans", sans-serif' font-weight="bold" font-size="31" fill="#0b1020" stroke="#0b1020" stroke-width="1.1">E</text>
<text transform="translate(991.75,333.6) scale(0.82,1)" text-anchor="middle" font-family='"Liberation Sans", sans-serif' font-weight="bold" font-size="21.8" fill="#0b1020" stroke="#0b1020" stroke-width="0.9">E</text>
<text transform="translate(1023.9,333.6) scale(0.82,1)" text-anchor="middle" font-family='"Liberation Sans", sans-serif' font-weight="bold" font-size="21.8" fill="#0b1020" stroke="#0b1020" stroke-width="0.9">E</text>
<text transform="translate(1055.4,333.6) scale(0.82,1)" text-anchor="middle" font-family='"Liberation Sans", sans-serif' font-weight="bold" font-size="21.8" fill="#0b1020" stroke="#0b1020" stroke-width="0.9">E</text>
<text transform="translate(1768,112.5) rotate(90) scale(0.78,1)" font-family='"Liberation Sans", sans-serif' font-weight="bold" font-size="12.6" fill="#0a0a0a" textLength="90" lengthAdjust="spacingAndGlyphs">Launderette</text>
</svg>
</body></html>
